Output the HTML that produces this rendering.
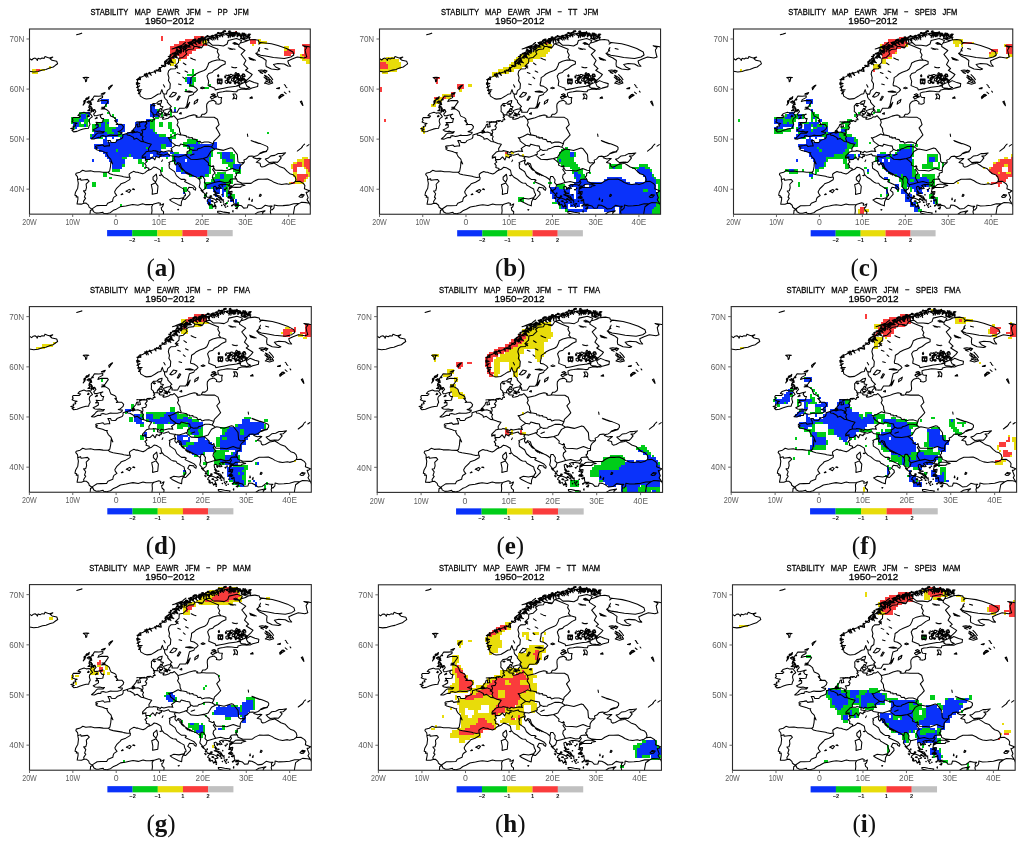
<!DOCTYPE html>
<html lang="en"><head><meta charset="utf-8"><title>Stability maps EAWR JFM</title>
<style>html,body{margin:0;padding:0;background:#fff}body{width:1024px;height:846px;overflow:hidden}svg{display:block}.t{font-family:"Liberation Sans",Arial,sans-serif;font-size:9.2px;fill:#000;stroke:#000;stroke-width:0.3;text-anchor:middle}.ax{font-family:"Liberation Sans",Arial,sans-serif;font-size:8.7px;fill:#5e5e5e}.cb{font-family:"Liberation Sans",Arial,sans-serif;font-size:5.6px;font-weight:bold;fill:#111;text-anchor:middle}.lt{font-family:"Liberation Serif","Times New Roman",serif;font-size:25px;fill:#111;text-anchor:middle}.cl{fill:none;stroke:#000;stroke-width:1.05;stroke-linejoin:round;stroke-linecap:round}</style></head><body>
<svg width="1024" height="846" viewBox="0 0 1024 846">
<defs><clipPath id="cp"><rect x="0" y="0" width="280.8" height="185.2"/></clipPath>
<g id="coast" class="cl"><path d="M0,29.5 2.2,31 3.9,29.5 5.6,29.1 7.3,30.3 7.8,31.5 8.6,29.3 10.8,30 12.5,29 14.7,29.4 15.5,27.5 18.1,28.5 19.9,29 23.3,28.1 20.7,29.8 22.5,31.3 27.2,32.3 28.1,34.8 25.9,36.3 23.8,38 20.7,38.8 16.4,40.5 13,41.1 8.6,42.5 4.3,43 0,42.3 M47.1,5.8 49.7,5.1 52.3,4.3 50.1,4.9 47.1,5.8 M53.6,48.6 56.6,48.3 59.2,48.6 57.4,49.1 57,52.1 56.1,52.8 55.7,50.1 53.6,48.6 M79.5,60.6 80.8,58.6 82.9,56.1 81.2,56.8 79,58.6 79.5,60.6 M71.7,65.1 73.4,64.3 75.6,63.6 74.3,65.3 71.7,65.1 M53.6,76.1 54.9,73.6 55.3,71.6 59.6,67.6 59.2,69.6 56.1,71.1 55.3,74.1 53.6,76.1 M57.4,73.1 59.6,71.8 61.8,73.8 59.2,74.3 57.4,73.1 M59.2,78.6 59.6,77.1 61.8,77.8 59.2,78.6 M58.3,81.6 60,80.6 60.5,81.8 58.3,81.6 M61.8,109.9 64.8,107.4 66.7,105.1 68.2,104.1 71.7,104.1 73.4,104.1 74.7,102.6 72.6,102.9 70,102.1 67.8,102.4 65.2,102.1 63.5,100.9 66.1,99.6 68.7,98.1 68.7,95.6 65.9,96.1 67.6,94.6 66.5,93.4 68.7,93.6 72.1,93.4 73.2,93.1 73.4,91.3 74.1,89.6 72.3,89.6 70.8,87.6 71.7,85.6 73.2,85.2 70.8,85.7 67.4,86.6 65,86.8 64.1,85.1 66.3,82.6 65.2,80.6 63.5,80.8 61.3,83.6 62,80.6 62.2,78.6 59.6,76.6 61.8,74.6 61.1,72.1 63.5,69.1 64.8,67 69.1,67.2 73.2,66.8 73,68.6 69.1,70.6 68.2,72.6 71.7,71.5 77.7,71.6 78.6,72.8 77.3,74.6 75.6,77.1 74.3,78.3 72.1,78.3 75.2,78.7 71.7,80.1 75.2,79.8 77.7,81.1 79.5,82.6 80.3,85.1 81.2,87.1 84.7,88.6 86,89.6 86.8,92.1 85.1,91.6 87.9,94.6 86.6,95.6 88.5,95.4 92,95.4 93.9,97.6 93.3,99.6 91.6,101.1 90.3,102.1 88.5,102.6 90.7,103.2 92.6,103.2 92.2,104.6 90.5,105.6 87.5,106.4 82.9,106.4 80.8,106.1 77.7,107.1 75.8,107.4 73.4,106.6 71.3,107.1 71.1,108.6 68.5,108.4 64.6,110.1 61.8,109.9 M65.7,89.8 67.4,88.1 67.8,89.1 65.7,89.8 M59,99.3 56.4,99.5 53.6,100.1 50.5,101.1 47.5,102.4 44.1,102.9 42.5,101.4 44.5,100.6 41.2,99.6 44.1,98.9 43.6,97.4 46.2,96.9 45.4,95.4 47.5,94.4 44.9,93.9 42.5,92.9 43.6,91.3 42.8,90.1 43.6,88.6 46.6,88.6 49.7,88.6 51,87.1 48.4,86.6 50.1,84.6 54.4,83.2 56.6,84.1 59.8,83.8 61.8,86.1 62.8,87.8 60.9,89.1 60,90.1 59.6,92.1 60,93.6 60.5,95.4 59.6,97.1 59,99.3 M78.6,143.3 73.4,143.2 70,142.7 64.8,142.8 61.1,141.9 56.1,142.3 53.1,141.3 50.5,143.2 46.6,144.2 46.2,145.7 47.9,147.7 48.2,149.7 48.1,150.8 48.8,154.2 48.2,159.2 46,163.2 45.4,166.2 47.1,166.7 46.6,168.1 48.4,167.9 48.4,170.4 47.5,175.1 51.8,175.2 54.4,174.3 56.6,174.2 59,176.2 59.6,178.2 62.2,180.2 63.3,179.4 67.4,176.7 71.3,176.6 76.9,176.5 78.2,174.2 83.1,172.2 83.4,170.2 84.2,168.4 87.2,166.4 85.5,164.2 85.1,162.7 86.8,159.7 89.4,157.2 90.3,156.4 91.6,154.7 95.9,153.2 100.2,150.7 100.6,148.7 100,148 M48.1,150.8 51,149.7 51.4,151.2 55.3,150.7 57.9,150.4 59.6,152.2 56.6,155.2 57,158.7 56.1,161.7 54,161.9 56.1,164.7 54.9,168.2 56.1,169.2 54,172.4 54.4,174.3 M78.6,143.3 80.3,144.9 83.4,145.7 89.4,146.7 92.6,147.2 93.9,147.7 97.2,148.4 100,148 M96.5,162.2 99.8,160.4 101.3,161.4 99.6,163.7 98,162.7 96.5,162.2 M102.8,160.2 105,160.7 104.1,159.8 102.8,160.2 M91.6,165.7 92.9,164.7 93.3,165.4 91.6,165.7 M78.6,143.3 80.1,142.2 81,137.6 81.4,132.6 83.1,134.9 81.8,131.9 81.2,130.1 78.6,127.6 77.1,124.6 77.7,123.7 75.6,123.6 73,122.4 67.8,121.1 66.1,119.9 67.8,118.9 65.9,118.1 66.5,117.1 70.8,116.4 73.4,115.9 74.7,117.4 77.7,116.9 80.1,116.9 79.5,114.1 78.2,111.6 80.8,111.6 81.6,113.4 85.5,113.6 86.8,112.6 87.2,111.6 92.4,109.6 93.3,108.1 93.3,105.9 97.2,104.6 100.9,103.3 101.9,102.9 103.7,103.1 102.4,101.6 103.7,100.9 104.1,100.1 106,97.9 106.9,95.4 108.4,95.1 108,98.1 110.6,97.6 109.7,93.9 113.2,92.9 116.2,93.1 117.1,93.9 117.1,91.8 120.9,91.5 122.2,92.6 123.1,92.3 123.3,90.8 125.3,90.7 124.8,89.6 123.5,88.3 124.8,87.6 123.5,85.6 123.7,84.6 121.4,82.3 121.6,80.1 121.4,77.1 123.5,74.6 127,74.2 129.4,72.2 132.2,71.4 131.7,73.8 130.9,75.3 130.9,77.1 133.5,77.8 132.6,79.3 130.7,79.6 129.6,81.6 128.3,82.6 127.4,84.1 127.2,85.9 129.6,86.3 129.4,87.6 130.4,88.1 133.5,88.2 134.3,88.1 133,89.8 133.5,90.3 135.6,90.1 138.6,89.3 140.4,87.8 142.5,88 144.3,86.7 145.8,88.3 147.7,90.4 148.1,90.6 155.5,88.8 159.4,87.1 164.1,85.9 165.6,86.1 167.6,87.1 166.5,87.8 167.2,88.3 170.2,88.3 171.3,87.8 172.6,85.3 174.9,85.3 177.1,83.6 177.5,81.6 177.3,79.7 177.1,77.6 177.3,75.1 178.8,73.1 180.1,72.2 184,71.3 186.6,73.3 186.2,74.8 189.2,75.2 190.5,74.8 191.8,73.8 191.6,70.7 192.2,68.6 189,68.3 187.9,66.6 187.7,64.1 190,63.2 193.3,62.8 197,62.1 201.3,62.3 204.7,62.8 207.5,62.7 207.8,61.2 211.6,60.3 214.7,60.3 216.8,60.4 215.5,59.3 211.6,59.1 209.9,58.1 210.3,56.6 206.5,57.3 203,57.7 198.7,58.3 194.4,59.2 190,60.1 185.7,60.9 185.3,59.3 182.3,58.1 178.6,56.6 178.8,54.6 179.2,52.3 178.4,50.1 177.5,47.1 179.2,44.5 182.7,43.5 184.4,41.5 187.9,39.8 192.2,36.5 195.7,35 195.7,32.5 192.4,31.3 190.7,31 187.5,31.1 182.7,32.3 179.2,34 178.4,36.5 176.7,40 174.5,41.5 169.7,43.3 166.3,45 163.9,47.1 161.5,48.6 161.3,51.6 160.5,55.1 160.7,56.6 163.9,57.3 166.7,59.1 168,60.8 165.9,63.1 164.6,63.6 163.7,65.6 159.4,67.1 158.5,70.6 157.7,74.6 157.2,76.8 155.7,79.1 153.8,79.3 149.9,79.3 148.1,82.3 147.7,83.2 144.3,83.3 141.9,83.1 142.3,81.8 141,79.8 140.4,78.6 141.9,77.6 139.5,75.1 137.8,73.1 137.8,71.6 135.6,69.6 134.8,68.1 134.5,65.1 133.5,64.1 132.4,60.6 131.5,62.8 130.9,64.8 128.3,65.3 125.3,67.3 121.4,69.6 116.8,70.1 114.9,69.6 110.8,67.1 110.4,65.1 109.3,63.1 108.8,60.1 108,57.1 107.8,54.6 108,51.1 108.4,49.6 113.2,47.6 116.6,45.5 119.6,44.5 124,43 127.8,41.5 129.6,40 133.5,37 135.6,35.3 139.1,32.5 140.8,30 143.4,27.5 147.3,24 151.2,20.5 155.5,18.5 161.5,18 157.7,17 162,14.5 168,11.8 172.8,10.5 177.1,10 181.4,8.5 185.7,8 188.8,6.5 192.2,5.3 197.8,4.3 200.8,5.5 203,7.5 206,4.5 209.5,6.3 211.6,5.8 216.4,6.5 220.7,8.3 216,9.8 210.8,9.3 216,11.3 219.6,11 224.6,10.5 228.9,11.3 229.4,13 231.1,13.5 229.4,15.2 231.5,13.5 235.4,14 241.9,14.8 248.4,16.5 257,19.5 263.5,23 264.3,26 261.3,28 254.8,29.5 244,28.5 237.6,27.3 231.1,26.3 226.3,24.3 228.9,27 233.2,29 236.7,31.5 236.3,35 236.7,37.5 241.9,40 248.4,40.8 250.5,40 246.2,38 244,35.5 248.4,34.5 254.8,35 258.3,37 261.3,37.3 259.2,35 258.3,32 262.6,30 267.8,28 274.3,29 277.3,28 276.4,25 275.6,21 277.3,18.5 273.4,16.8 278.6,17.5 285.1,19 M128.7,82.6 131.3,82.1 133,83.6 132.2,84.8 129.6,84.6 128.7,82.6 M133.5,81.6 137.4,80.3 140.6,79.8 140.8,81.6 139.1,83.1 138.2,85.3 134.8,84.1 133.5,81.6 M133.9,86.1 137.4,85.6 137.6,87.1 133.9,86.1 M149.9,84.6 151.6,83.6 151.8,85.1 149.9,84.6 M164.6,75.1 165,72.6 168.4,70.3 167.6,73.1 164.6,75.1 M157.2,79.1 158.1,76.1 160.2,73.3 158.5,77.6 157.2,79.1 M180.8,68.6 181.4,67.6 185.7,67.1 187,67.8 184.4,68.8 182.3,70.1 181.4,68.8 180.8,68.6 M181.8,65.6 184,64.7 185.7,65.8 183.6,66.6 181.8,65.6 M171,59.1 172.8,58.1 174.9,59.1 172.8,59.8 171,59.1 M142.5,20 146.9,18.8 151.2,17.8 153.8,15 155.9,13.5 152.5,16.3 149,17.5 144.7,19.3 142.5,20 M158.9,14.5 162.8,12.3 164.1,13.5 160.7,15 158.9,14.5 M216,60.1 219.8,60.3 222.4,59.1 228.1,57.6 228.5,54.6 224.6,53.6 219.8,51.6 216,54.1 217.3,57.1 220.3,58.6 216,60.1 M235,54.1 239.3,55.3 243.2,54.1 241.9,51.6 237.6,47.6 235,46.3 237.1,49.1 238.9,51.1 235,54.1 M203.4,70.1 205.2,69.1 206.9,70.1 207.3,67.1 206,65.1 203.4,65.1 204.7,67.6 203.4,70.1 M220.3,69.1 222.4,67.8 222.9,69.3 220.3,69.1 M250.1,69.1 253.5,66.1 251.4,65.6 250.1,69.1 M247.1,59.6 250.1,58.6 249.7,59.8 247.1,59.6 M139.9,67.6 143.4,63.3 146.9,64.1 145.1,66.6 142.1,68.1 139.9,67.6 M147.3,71.1 149.4,67.1 150.7,67.6 148.6,71.1 147.3,71.1 M155.5,62.6 159.8,62.1 163.3,63.1 159.8,63.3 155.5,62.6 M100,148 99.6,145.2 101.5,143.7 104.1,142.4 106.3,143.2 108,143.2 109.7,143.9 113.2,144.9 115.3,143.9 117.9,141.7 119,141.3 121.8,140.2 124.2,138.1 126.6,138.6 128.9,139.9 130.9,141.2 131.7,145.2 134.3,148.2 137.4,149.9 139.5,151.7 141,152.9 143,153.9 146,154.2 147.3,156.2 149,157.1 151.2,158.4 154,159.9 154.6,162.7 155.9,165.2 155.9,166.7 154.8,166.9 154,170.2 155.7,170.5 157.9,168.2 160.5,165.4 160.2,163.2 157.7,161.4 159.4,158.2 163.7,158.9 164.3,160.4 165.9,161.2 166.3,159.4 164.1,156.9 160.7,155.2 155.5,152.9 155.1,152.2 156.4,151.2 155.1,150.4 151.6,150.4 149.9,149.2 146.9,146.7 145.1,142.7 142.5,140.9 139.9,139.2 139.5,135.9 140.2,135.1 139.3,133.6 143,131.9 145.1,131.1 145.8,131.9 144.9,132.9 145.1,134.6 146.4,136.1 148.1,133.6 150.7,134.6 152,138.6 155.5,142.4 159.8,144.7 164.6,147.2 166.3,147.9 168.9,149.7 170.2,150.9 M170.2,150.9 170.6,153.7 170.2,155.7 169.7,157.9 172.8,161.7 174.1,163.7 176,165.4 177.5,168.4 180.5,168.4 185.3,170.4 182.3,169.2 180.1,169.2 178.4,170.4 177.5,172.2 179.9,173.7 180.1,176.2 182.1,175.2 183.6,178.2 184.9,176.2 186.6,177.9 184.6,173.7 186.4,173.4 187.9,172.9 185.7,170.7 188.3,170.2 190.3,171.9 190.5,169.2 187,166.9 184,165.7 185.9,165.2 185.3,163.4 187.2,164.4 184.4,160.7 184,157.9 185.5,157.2 187.5,158.9 187.2,160.4 189,158.4 190,159.7 191.8,159.4 189.2,156.4 191.8,155.4 194.8,155.4 198.5,155.9 198.9,156.7 202.1,156.9 199.5,158.7 199.5,159.9 201.9,158.2 205.2,155.4 207.3,155.2 211.4,155.2 212.1,154.1 207.8,152.4 207.3,150.4 205.4,147.9 206.9,146.7 206.9,144.2 209.9,143.2 209.9,141.4 210.1,138.6 211.4,136.4 214.2,134.1 214.9,133.1 214.4,131.1 216.8,130.1 219.2,127.4 222.4,127.1 224.6,127.6 223.5,128.6 227.2,129.9 229.8,129.4 231.5,129.6 226.8,133.4 230.6,134.4 231.1,137.1 232.4,138.1 235,137.5 239.3,135.1 243.6,134.4 244.5,133.1 239.7,133.6 237.6,131.9 235.8,130.1 238.4,129.4 241.4,126.9 245.3,126.4 248.8,124.6 251.8,124.6 256.1,123.9 252.7,126.9 249.7,127.1 251.8,128.9 249.7,131.6 247.9,133.4 245.3,133.1 244.5,134.1 247.5,135.9 250.5,137.9 254.8,139.4 257.9,142.7 260.4,144.7 263.5,145.7 265.6,147.7 266.5,150.7 265.8,152.6 263.5,154.2 259.2,155.4 257,154.7 252.2,155.5 248.4,154.9 244.5,153.4 241.9,151.7 238,150 233.2,150.3 228.9,150.2 224.6,152.2 221.6,154.4 216.8,154.4 212.1,154.1 M211.9,155.2 215.5,156.4 211.6,157.2 211.4,158.3 206.5,158.4 203,158.2 199.5,160.3 199.1,162.7 202.6,162.4 202.1,165.2 200.4,166.9 202.6,168.2 200,169.2 203.9,170.4 204.1,173.4 204.7,175.2 208.6,175.2 205.2,176.7 207.8,176.9 209.5,176.2 212.1,176.9 214.2,179.2 217.7,178.9 218.6,175.9 221.6,176.2 224.6,177.7 227.6,179.9 231.9,179.4 235.8,176.3 239.7,177.2 242.7,177.2 241,178.7 241.4,180.7 240.8,182.7 241.4,185.2 241.4,187.7 M123.5,148.2 126.8,145.2 127.6,149.7 126.1,153.2 123.5,150.7 123.5,148.2 M121.8,155.7 126.1,153.9 128.5,157.2 127.8,164.2 125.3,164.7 122.7,165.4 122.9,161.2 121.8,155.7 M140.2,170.9 143.8,169.2 149,169.9 153.8,168.8 152,172.7 151.6,176.8 148.6,175.7 142.1,172.4 140.2,170.9 M188.1,182.4 190.9,182.4 194.4,183.2 200,183.9 199.1,185.2 193.5,185.5 188.3,183.9 188.1,182.4 M225.9,184.9 228.5,183.2 235.6,181.8 232.8,183.9 233.5,185.4 228.9,187.2 225.9,184.9 M206,179.4 208.2,178.1 207.5,179.9 206,179.4 M198.3,164.2 200.8,163.4 201.1,165.1 198.3,164.2 M186.6,165.9 190.5,167.2 192.4,170.2 188.8,167.9 186.6,165.9 M198.3,168.7 199.3,167.4 199.1,169.2 198.3,168.7 M171.5,161.4 172.6,161.4 173.2,163.2 171.5,161.4 M174.5,168.7 176,168.7 175.8,169.8 174.5,168.7 M195.7,174.7 197,174.4 196.3,175.4 195.7,174.7 M192.6,170.7 194.1,170.9 193.5,171.7 192.6,170.7 M201.3,171.4 203,171.4 202.1,171.9 201.3,171.4 M194.8,160.4 196.1,160.4 195.4,161.2 194.8,160.4 M192.4,156.7 193.3,156.7 192.9,157.3 192.4,156.7 M130,146.4 131.5,146.2 130.9,146.7 130,146.4 M148.1,180.7 149.2,180.4 148.8,181.1 148.1,180.7 M60.5,185.2 60.9,181.3 63.3,180.7 63.9,182.7 66.5,184.2 69.5,184.1 73.4,183.2 73.9,184.2 76.9,184.7 80.8,183.7 83.8,181.4 86.8,180.2 90.7,177.9 96.3,177 99.6,176.2 103.2,175.6 108.4,176.4 113.2,174.9 116.2,175.7 119.9,175.7 123.5,175.4 128.9,173.7 130.9,174.4 130.4,176.2 132,175.9 134.1,174.8 133,177.9 131.7,178.7 132.2,181.2 134.1,182.7 133.9,185.2 132.6,187.7 M76.9,184.7 78.6,186.2 79,188.2 M123.5,175.4 122.2,177.7 122.5,181.7 122.2,184.2 122,186.7 M134.5,65.1 136.9,65.1 137.8,61.6 140.4,59.6 140.8,54.8 138.9,51.6 139.5,48.8 138.4,45 139.1,42 141.2,40 145.6,39.8 148.1,37 145.3,37 149,33.5 149.2,29.3 153.3,28.5 157.2,24.8 155.9,22.8 158.7,20.5 163.7,20 164.8,17.3 172.6,18.3 174.3,15.5 175.1,14.7 M190.7,31 188.5,28.5 189.6,26 187.7,22.8 188.5,20.3 180.5,17 175.1,14.7 M175.1,14.7 179.7,13.5 183.1,16.3 188.8,16.3 193.9,17 197.6,15 198.7,11.5 206.9,9.6 212.1,11.5 210.8,14 212.9,13.5 216,12.5 219.6,11 M210.8,14 209.5,15.5 209.3,17.5 215.5,21.5 211.6,25.3 216.4,31.5 214.2,35.5 218.3,39.5 216,41.3 222.7,45.5 221.1,47.6 214.7,53.6 206.5,57.3 M171.3,87.8 176.2,88.3 184.6,88.3 187.9,90.3 189.6,95.6 186.6,98.9 188.5,102.1 190.5,105.9 188.1,108.6 184.2,112.4 183.8,114.7 182.1,118.1 185.3,120.3 186.6,119.9 193.9,121.4 201.3,118.9 203,119.4 207.8,125.6 208.4,132.6 210.3,134 214.4,133.4 M147.7,90.4 148.6,93.6 147.5,95.9 149.9,99.6 150.1,102.6 151.2,105.1 150.3,105.9 M150.3,105.9 152.9,106.1 156.8,106.9 157,108.1 159.4,108.1 159.4,109.1 162.8,108.6 163.1,109.9 166.7,110.6 167.8,112.6 170.6,112.4 171.9,114.1 174.9,113.1 179.2,113 183.8,114.7 M150.3,105.9 148.1,104.9 143.4,107.4 139.7,108.9 138.6,108.6 140.4,110.6 140.4,111.9 142.5,113.6 146,116.1 146.2,116.3 M146.2,116.3 149.9,117.1 151.2,115.1 155.9,116.4 159.6,117.1 160.2,119.6 160.7,120.1 M160.7,120.1 163.3,121.4 167.8,121 168.4,119.9 171.3,119.1 174.9,117.4 179,117.3 182.1,118.1 M146.2,116.3 144.5,117.4 141.5,119.6 142.5,120.9 142.1,121.6 143,122.4 139.1,121.9 133.9,123.1 131.5,122.3 130.4,123.6 127.8,122.4 M127.8,122.4 123.5,121.6 122.7,122.2 119.2,122.2 116.6,122.9 116.2,123.6 112.7,127.1 112.7,129.1 113.6,128.1 115.8,128.1 116,130.4 116.8,130.6 M119.2,122.2 119,119.6 121.8,115.3 118.3,114.4 114,112.8 111.4,112.4 107.3,109.4 104.5,110.3 104.1,108.6 100.2,106.4 97.8,106.1 97.4,104.6 M114,112.8 112.7,109.6 113.6,107.6 112.3,106.4 111,106.1 111.7,104.4 108,102.9 105,103.4 103.2,104.1 100.9,103.3 M112.3,106.4 113.2,103.1 112.1,101.1 115.8,100.4 116.8,98.1 115.3,97.1 117.5,94.1 M123.7,85.6 127.2,85.9 M127.8,122.4 127.6,124.9 131.5,125.6 131.5,127.4 130,127.1 129.8,128.9 126.6,127.6 125.3,130.9 122.9,127.9 120.3,130.5 116.8,130.6 115.8,131.1 117.1,133.1 115.1,134.6 116.6,136.6 116.2,138.4 119.4,139.4 119,141.3 M131.5,125.6 133.9,126.3 138.6,124.9 139.9,126.6 145.6,127.5 M145.6,127.5 144.3,129.1 145.3,130.4 145.8,131.9 M145.6,127.5 149.2,128.1 154,126.6 155.9,125.8 M155.9,125.8 157.7,125.1 157.4,123.1 160,121.6 160.7,120.1 M155.9,125.8 158.1,127.8 161.1,130.2 167.6,130.6 173.8,129.5 M173.8,129.5 178,128.1 181.4,122.4 185.3,120.3 M173.8,129.5 176.2,131.4 179.2,134.1 178.8,136.1 182.1,137.6 184.4,137.4 183.4,136.6 184.4,139.2 M184.4,139.2 185.7,141.2 192.2,141.4 196.5,141.9 203,139.5 207.3,141.2 209.9,141.4 M184.4,139.2 183.1,140.4 185.7,144.2 183.4,145.9 182.9,148.7 185.5,153.4 M185.5,153.4 190.5,152.4 195.7,153.9 199.3,153.4 200.2,151.7 M200.2,151.7 201.1,150.4 204.7,149.9 207.3,150.4 M200.2,151.7 201.3,153.4 200,155.4 198.9,156.7 M185.5,153.4 181.4,154.6 177,155.8 M170.2,150.9 171,147.4 173.2,147.4 175.4,150.7 174.9,153.7 177,155.8 M177,155.8 175.8,159.7 172.8,161.7 M265.8,152.6 270.4,152.3 274.1,154.7 275.4,156.7 274.9,159.7 279.9,161.7 M279.9,161.7 278.2,163.2 276.6,163.4 278.6,168.7 277.5,170.7 279.9,174.4 M279.9,161.7 282.9,162.7 285.1,165.7 M279.9,174.4 276.9,173.7 272.1,173.4 269.3,174.7 M269.3,174.7 264.3,174.8 259.2,176.2 253.5,176.7 248.4,176.9 244.7,176 244.5,178.9 242.7,180.9 241.5,180.6 M269.3,174.7 265.2,177.7 264.3,182.7 263.5,188.2 M279.9,174.4 282.5,180.2 285.1,181.2 M57.9,87.6 58.7,86.3 59.6,87.1 58.7,87.8 57.9,87.6 M217.9,105.1 218.3,107.4 M221.6,111.4 225.5,112.9 228.9,114.1 231.5,114.9 234.1,115.9 237.6,117.4 238.4,118.6 238.2,120.6 236.3,122.4 233.2,122.9 230.6,124.1 228.9,125.9 227.2,126.9 224.6,127.6 M222,111.9 225.9,113.4 229.4,114.6 M237.1,122.6 234.1,123.4 231.1,124.6 M267.8,122.1 270,120.4 271.7,119.1 273,117.4 272.1,118.9 270.4,120.1 267.8,122.1 M273.4,116.6 275.1,115.1 M277.3,117.1 279.5,115.6 M249.7,69.6 251.8,67.8 254.4,66.3 252.7,65.3 250.5,66.6 249.2,68.1 249.7,69.6 M250.9,67.6 253.1,67.1 M272.1,72.1 273,74.6 273.4,76.6 272.3,75.1 270.8,72.8 272.1,72.1 M254.8,63.1 256.6,64.6 M256.1,57.6 257.4,58.6 M254.8,55.6 256.1,56.6 M259.6,62.1 260.4,63.1 M229.8,167.2 230.6,165.2 231.9,165.9 230.9,167.4 229.8,167.2 M269.5,167.7 271.7,165.4 274.7,165.9 273,168.2 270.8,168.4 269.5,167.7 M271.7,166.7 273.8,166.9 M222,172.2 222.9,170.4 222.7,172.4 222,172.2 M219.4,170.7 219.8,168.9 220.1,170.7 M161.1,126.4 164.6,125.1 M113.2,128.9 116.2,127.9 M125.7,121.9 127.8,122.4 M132.2,132.6 133,130.9 M161.1,29 163.7,30.3 165.9,31 M153.8,34 156.4,35.8 M168.4,18.3 171.9,19 M147.7,43.5 150.3,44.5 M149,55.1 151.6,55.8 M133.9,55.8 135.2,58.1 M155.5,42 158.1,43.3 M146,37.5 148.1,39 M153.3,48.1 155.1,49.6 M203.4,14.3 205.6,14.8 209.1,15.8 207.3,14.5 205.2,13.5 203.4,14.3 M204.7,15.3 207.8,15.3 M198.7,19 202.1,19.8 205.6,20.3 M200,20 203,20.5 M230.2,18.5 229.4,20.5 228.5,22.5 227.2,24 M228.9,20.3 230,22 M235.4,19.5 238.4,20.3 M219.4,28.5 222.4,29.8 225.9,31.3 M220.3,30.3 224.2,31.3 M219.8,29.3 221.6,30.5 M202.1,38 204.7,38.8 207.3,38.5 M203,38.5 206.5,39 M228.9,41.5 231.5,43 234.1,42.5 235.8,44 237.1,42.5 234.5,41.5 231.9,41 228.9,41.5 M230.6,43.5 233.2,44.5 M235,41 237.6,42 M238.9,45.5 241.4,48.1 243.2,50.6 M234.5,48.1 237.1,50.6 M239.3,48.6 240.1,52.6 M236.3,52.1 239.7,53.6 241.9,52.8 M213.8,49.1 216,50.6 M215.1,52.3 217.3,51.8 M209.3,47.1 208,48 209,49.5 209.9,50.9 211.2,49.8 211,48.2 210.7,46.5 209.3,47.1 M204.6,47.1 204.7,48 205.3,49 206.9,49.1 206.7,47.5 206.3,46.6 205.2,45.9 204.6,47.1 M205.7,52.6 206.8,53.9 208.1,52.7 209.8,52 208.3,51.1 207,51.1 206.1,51.7 205.7,52.6 M213.3,51.3 214.3,50.5 214.1,48.9 213,48.4 211.9,48.8 212.1,50.3 212.5,51.1 213.3,51.3 M201.2,47.7 202.2,47.6 203.1,46.9 202.7,45.7 201.7,45.4 200.4,45.5 200.2,46.9 201.2,47.7 M197.6,50.3 198.4,51.5 199.6,51 199.7,49.5 199.7,47.8 198.5,48.5 197.7,48.9 197.6,50.3 M197.6,51.1 196.7,51.4 195.7,51.8 195.7,53.6 196.8,54.4 198,54.3 198,52.5 197.6,51.1 M201.8,51.4 202.9,51.9 204.3,51.7 204.8,50.3 203.7,49.4 202.5,49.1 202.1,50.3 201.8,51.4 M209.9,54.7 211.7,54.8 212.4,53.9 212.5,53.1 211.6,52.5 210.6,53.1 209.7,53.6 209.9,54.7 M207.1,44.2 206.4,43.5 205.7,44.2 205.4,44.8 206,45.3 207.3,45.6 207.4,44.6 207.1,44.2 M212.8,46.6 213.7,47.6 215,47.5 215.2,46.2 215,45.2 214.1,44.9 213,45.1 212.8,46.6 M201.4,53 200.6,52.9 200,53.3 199.8,54 200.6,54.5 201.5,54.1 201.6,53.5 201.4,53 M207.8,44.9 207,45.6 207.9,46.4 209,46.4 209.8,45.9 209.8,45 208.7,45 207.8,44.9 M215.8,53.2 216.6,52.6 216.3,51.7 215.8,51.3 215.1,51.6 214.5,52 215.1,52.5 215.8,53.2 M195.8,47.1 195.3,47.1 195.2,48 195.4,48.7 195.8,49 196.1,48.5 196.3,47.6 195.8,47.1 M205,50.2 205,49.2 204.7,48.5 204,48.4 203.5,49 203.7,49.7 204.2,50.7 205,50.2 M208.5,50.4 209,50.9 209.5,51.2 210.2,51 210.3,50.4 210,49.5 209.2,50 208.5,50.4 M200.8,48.1 200.5,47.4 200.1,46.9 199.6,47.4 199.1,47.9 199.4,48.9 200.4,48.9 200.8,48.1 M189.1,50.5 188.3,52.2 188.4,54.9 190,54.3 190.5,51.5 189.1,50.5 M191.5,50.9 190.2,51.9 190.5,54.7 191.9,55.1 192.5,52.7 191.5,50.9 M188.9,45.7 188.1,46.5 188.4,47.7 189,47.8 189.4,46.9 188.9,45.7 M187.9,54.1 192.6,54.1 192.6,50.1 187.9,50.1 187.9,54.1 M109.9,64.3 111.2,62.2 109.6,63.6 M108.9,64.4 108.7,64.7 109.3,64.8 109.7,64.6 109.6,64.2 108.9,64.4 M109,61.4 112.3,60.7 108.9,60.7 M108.4,61.3 108.3,60.9 108,60.9 107.9,61.2 108,61.5 108.4,61.3 M108.4,58.5 110.2,56.8 108.2,57.8 M108.1,58.3 107.5,58.3 107.1,58.6 108,58.8 108.3,58.5 108.1,58.3 M107.8,55.5 110.3,54.6 107.8,54.7 M107.4,55.3 107.3,55.1 106.8,55.1 106.9,55.3 107.2,55.4 107.4,55.3 M107.8,54.4 110.1,54.5 107.8,53.6 M107,53.8 106.8,54 107.5,54 107.8,53.8 107.4,53.6 107,53.8 M108,50.9 111.1,50.3 108.2,50.2 M107.1,50.6 107.2,50.7 107.7,50.7 107.8,50.6 107.4,50.5 107.1,50.6 M110.2,48.8 111,50.8 110.9,48.5 M110,48.2 110.4,48.3 111.1,48.2 110.7,48 110,48 110,48.2 M115.3,46.3 117,48.2 116,45.9 M114.8,45.3 115,45.7 115.7,45.8 115.9,45.3 115.3,45 114.8,45.3 M116.9,45.5 118.6,48.1 117.6,45.2 M116.6,44.4 116.7,44.6 117,44.6 117.2,44.4 116.9,44.2 116.6,44.4 M119.8,44.5 121.8,46.5 120.6,44.2 M120,43.4 119.2,43.7 119.3,44.2 120.3,44.5 120.8,43.9 120,43.4 M124.9,42.7 126.1,44.3 125.7,42.4 M125.5,42 125.1,41.7 124.8,41.9 124.8,42.3 125.3,42.4 125.5,42 M127.6,41.7 131.2,42.6 128.2,41.2 M127.1,41 126.7,40.9 126.5,41 126.5,41.2 126.9,41.3 127.1,41 M130.1,39.7 131.3,42.2 130.7,39.2 M130.8,38.6 130.1,38.5 129.7,38.7 129.7,38.9 130.6,38.9 130.8,38.6 M133.3,37.2 135.2,37.7 133.9,36.7 M131.9,36.5 132.6,36.6 132.9,36.5 132.9,36.2 132.3,36.2 131.9,36.5 M135.5,35.4 136.2,37.2 136.1,34.9 M135.3,33.3 134.9,33.9 135.3,34.4 135.9,34.1 136,33.6 135.3,33.3 M137.1,34.1 139.1,35.4 137.8,33.6 M136.6,32.8 137.4,32.5 136.4,32.2 135.1,32.4 135.2,32.8 136.6,32.8 M138.5,33 141,36 139.1,32.5 M137.3,30.7 136.9,31 137.6,31.2 138.8,31.1 138.2,30.6 137.3,30.7 M138.9,32.8 143.9,33.7 139.4,32.1 M136.4,31.5 136.1,31.8 136.4,32.2 137.1,32 137.4,31.5 136.4,31.5 M140.1,31.1 143.6,33.9 140.5,30.4 M138.7,29.5 138.6,29.8 139.4,29.9 140,29.7 139.5,29.5 138.7,29.5 M140.6,30.2 142.1,31.3 141.2,29.7 M139.6,29.5 140.5,29.7 141.1,29.3 140.6,28.9 139.6,29 139.6,29.5 M142.2,28.7 144.8,29.2 142.7,28.2 M140.6,28 141,27.6 140,27.3 138.7,27.5 139.4,27.8 140.6,28 M143.5,27.4 147.9,29.1 144.1,26.9 M140.8,26.7 141.8,26.3 141.8,25.8 141.1,25.5 140.4,25.9 140.8,26.7 M144.7,26.3 147.8,28.4 145.3,25.8 M144.7,24.7 143.7,24.1 142.5,24.4 142.5,25 143.7,25.2 144.7,24.7 M145.6,25.5 146.9,26.8 146.2,25 M145.1,24.6 146.3,24.3 145.9,23.9 144.7,23.8 144,24.2 145.1,24.6 M146.5,24.7 148.5,25.6 147.1,24.2 M145.5,23.2 145.4,23.8 145.7,24.2 146.3,24.1 146.4,23.4 145.5,23.2 M147.5,23.8 149.5,26.1 148.1,23.3 M147.4,22.3 147.9,21.9 146.6,21.7 146.3,22.1 146.6,22.4 147.4,22.3 M148.7,22.7 150.7,24.3 149.3,22.2 M147.3,21.7 148.4,21.9 149.9,21.6 148.5,21.3 146.9,21.2 147.3,21.7 M149.6,21.9 152.1,23 150.2,21.4 M148.4,20.1 147.7,19.9 146.9,20 147,20.3 147.7,20.4 148.4,20.1 M150.6,21.1 151.6,24.1 151.2,20.5 M150.2,19.5 150.8,18.9 150.8,18.2 150.2,18 149.6,18.7 150.2,19.5 M151.2,20.5 152.5,22.4 152,20.2 M151.1,18.7 150.8,19.5 151.1,20 151.7,20 151.6,19.3 151.1,18.7 M153.3,19.5 157.1,21.9 154.1,19.2 M150.5,18.3 151.9,18.5 153.4,18.3 152.7,17.5 151,17.3 150.5,18.3 M154,19.2 154,22.8 154.7,18.9 M154.2,17.6 153.3,18.1 154.2,18.4 155.3,18.3 155.1,17.9 154.2,17.6 M155.5,18.5 156.4,20.1 156.2,18.1 M155.8,16.6 154,16.9 154.6,17.5 155.9,17.5 156.5,17.1 155.8,16.6 M156.5,17.8 157.2,19.6 157.2,17.3 M156.6,17 157.5,16.6 157.2,15.8 156.1,15.9 155.8,16.5 156.6,17 M157.5,17.1 159.9,18 158.2,16.7 M156.3,15.4 155.4,15.6 155.4,16.3 156.5,16.5 157.5,15.8 156.3,15.4 M159.1,16.2 159.5,17.5 159.8,15.8 M158.9,14.1 159.8,14.4 161.2,14 160.1,13.4 158.3,13.6 158.9,14.1 M159.7,15.8 160.2,17.5 160.4,15.4 M159.6,14.7 161,14.4 160.6,13.5 159.4,13.3 159.2,14 159.6,14.7 M160.7,15.2 164.4,17 161.4,14.8 M159.3,14.5 159.9,14.4 160.1,14.2 159.8,13.8 159.2,14.1 159.3,14.5 M161.8,14.6 163.2,15.8 162.6,14.3 M160.7,14 161.9,13.9 162,13.1 161.4,12.7 160.3,13 160.7,14 M163.1,14 163.1,16.6 163.8,13.7 M163.2,12.4 164.2,12.1 164.2,11.8 163.7,11.6 163,11.8 163.2,12.4 M164.2,13.5 167.5,16 164.9,13.2 M162.9,11.2 162.7,12.1 163.1,12.6 163.8,12.5 163.6,11.7 162.9,11.2 M165.7,12.8 166.3,14.7 166.4,12.5 M166.5,10.7 165.5,10.7 164.6,11.4 165.9,11.7 166.6,11.3 166.5,10.7 M166.8,12.3 170.8,14.8 167.6,12 M164.7,10.2 163.4,10.9 165,11.5 166,10.9 166.3,10.1 164.7,10.2 M168,11.8 168.5,13.6 168.8,11.6 M168.8,11 168.9,10.4 168,10.7 167.7,11 168.3,11.5 168.8,11 M169.2,11.4 168.8,14 170,11.2 M168.9,9.6 169.3,10.1 170.2,10.3 171.6,10.1 170.9,9.6 168.9,9.6 M170,11.2 169.3,14.8 170.8,11 M170.3,9.5 169.3,10.2 170.7,10.7 171.6,10.2 171.6,9.4 170.3,9.5 M171.5,10.9 170.6,14 172.2,10.7 M173.5,8.4 172.9,7.8 171.5,8.1 171.7,9.1 173.1,9.1 173.5,8.4 M172.9,10.5 173.8,14.3 173.7,10.4 M173.8,10 174.4,9.3 173.3,8.9 172.2,9.1 172.4,9.8 173.8,10 M173.9,10.4 173.4,13.7 174.7,10.3 M174.2,9.3 174.6,9.6 175.3,9.3 175,8.9 174.4,9 174.2,9.3 M175.4,10.2 176.2,13.4 176.2,10.1 M175,9 175.9,9.1 176.4,8.6 175.7,8.1 175.1,8.5 175,9 M177,10 178.6,12.2 177.8,9.8 M176.5,7.7 175.6,7.8 176,8.3 176.8,8.3 177,7.9 176.5,7.7 M178.7,9.4 179.2,12.8 179.5,9.2 M177.4,7.3 178.3,7.8 180.3,7.7 179.8,7.3 178.9,7.1 177.4,7.3 M179.8,9.1 183,11.1 180.6,8.8 M177.3,7 177.3,7.9 178.5,7.9 178.4,7.1 177.9,6.5 177.3,7 M181.3,8.5 181.6,10.3 182.1,8.4 M181.4,7.7 182,7.6 182.3,7.2 181.7,6.8 181.2,7.2 181.4,7.7 M182.7,8.4 184.6,11 183.5,8.3 M182,7.7 182.6,7.8 183,7.6 183,7.1 182.3,7.2 182,7.7 M184.2,8.2 186.3,10.1 185,8.1 M184.1,7.1 184,6.5 183.3,6.3 182.5,6.5 183.1,7 184.1,7.1 M186.5,7.6 188.4,10.8 187.2,7.3 M186.6,5.8 185.3,5.7 184.9,6.3 186.3,6.7 187,6.2 186.6,5.8 M187.3,7.2 188.7,8.7 188,6.9 M187.7,5.5 186.6,5.1 185.7,5.9 186.8,6.4 187.6,6.2 187.7,5.5 M189.3,6.3 190.3,7.8 190,6 M188,4.5 189,4.4 189.7,3.8 188.8,3.4 188.1,3.6 188,4.5 M190.3,5.9 190.6,7.9 191,5.7 M191.2,4.1 190.2,3.9 189.5,4.4 190.6,4.6 191.6,4.6 191.2,4.1 M190.7,5.8 192.6,7.1 191.5,5.5 M189.3,3.7 188.6,4.2 189.4,4.7 190.5,4.6 190.3,3.9 189.3,3.7 M191.8,5.3 193.2,7.9 192.6,5.2 M191,4 191.2,4.6 192.3,4.5 192.6,4 191.7,3.5 191,4 M193.7,5 194.5,6.5 194.5,4.8 M193.8,3.7 194,3.1 193.9,2.5 193.3,2.7 193,3.5 193.8,3.7 M195.6,4.7 198.8,7.2 196.4,4.5 M193.3,2.8 193.9,3.7 194.5,3.2 194.8,2.4 193.9,1.9 193.3,2.8 M196.4,4.5 197.9,6.2 197.2,4.4 M196,1.8 195,1.6 195,2.4 195.5,2.8 196.2,2.5 196,1.8 M197.5,4.1 196.3,5.8 198.2,4.4 M200.5,1.7 199.4,2 198.9,2.7 200,3.1 200.8,2.5 200.5,1.7 M199.6,5 198.7,8.7 200.4,5.3 M199,3.8 199.4,4.5 200.9,5 201.8,4.3 200.8,3.8 199,3.8 M200.9,5.5 200.6,8.7 201.7,5.3 M200.4,5 202.2,4.9 202.8,4.5 201.6,4.3 200.8,4.5 200.4,5 M201.9,5.3 203.3,7.7 202.7,5.1 M201.9,3.3 200.9,3.5 201.1,3.8 202.2,3.9 202.5,3.6 201.9,3.3 M203.3,5 204.7,7.8 204.1,4.9 M204.2,3.4 202.9,3.6 202.6,4 203.2,4.2 204.3,4.1 204.2,3.4 M205.1,4.7 205.7,6.8 205.9,4.5 M204.8,3.4 204.5,4 205.5,4.5 206.6,4 206,3.5 204.8,3.4 M205.7,4.3 204.8,6.9 206.4,4.7 M207.2,3.4 206.8,2.6 206.3,3.2 206.4,3.8 206.9,4.1 207.2,3.4 M207.4,5.2 207.5,7.3 208.1,5.6 M208.6,4.3 208.7,3.9 207.8,3.9 207,4.1 207.6,4.4 208.6,4.3 M208.7,5.8 207.7,7.9 209.4,6.2 M209.2,4.9 208.8,5.3 209.5,5.5 210.3,5.3 210,5 209.2,4.9 M209.8,6.2 212,8.6 210.6,6 M209.7,4.1 208.9,4.8 208.8,5.4 209.8,5.5 210.7,4.9 209.7,4.1 M212.2,5.8 211,9.4 213,6 M212.6,5.2 213.5,5.3 214.1,4.5 213.2,4 212.4,4.3 212.6,5.2 M213.9,6.1 213.4,9.4 214.7,6.2 M214.4,4.6 215.2,4.9 215.3,4.4 214.9,4.2 214.3,4.3 214.4,4.6 M214.8,6.3 214.2,7.7 215.6,6.4 M215.4,6.2 216.4,5.8 216.7,5.3 215.5,5.1 214.4,5.6 215.4,6.2 M217,6.8 213.9,9.6 217.8,7.1 M219.9,5 219,5.1 218.4,5.5 220.2,5.6 221.1,5.2 219.9,5 M218.2,7.2 217.3,8.9 218.9,7.5 M218.8,6.3 218.5,6.6 219,6.9 220.1,6.7 220.2,6.3 218.8,6.3 M219.3,7.7 220.1,10.6 220,8 M218.4,5.5 218.3,5.8 219.6,5.8 220.4,5.6 219.5,5.3 218.4,5.5 M61.4,75.9 62.2,75.3 60.8,75.1 60.2,75.5 60.4,76 61.4,75.9 M61.2,72.6 61,72.1 59.6,72.2 59.2,72.9 60.6,73 61.2,72.6 M61.6,78.7 61.6,79.8 62.2,80.8 62.8,79.8 62.6,79 61.6,78.7 M63.5,82.1 63.7,82.8 64.2,82.4 64.5,81.6 63.7,81.3 63.5,82.1 M59.7,80.4 60.3,80.5 60.6,80 60.1,79.5 59.7,80 59.7,80.4 M63.7,70.5 63.2,70.2 62.2,70.3 62.5,70.9 63.4,70.9 63.7,70.5 M54.9,71.5 54.3,72.1 54.4,73.6 55.2,73.7 55.5,72.3 54.9,71.5 M57.1,69 56.2,69.8 57.3,70.6 58.5,70.1 58,69.1 57.1,69 M132.2,81.1 132.5,80.6 132.4,80.2 131.7,80.2 131.8,80.7 132.2,81.1 M135.8,84.1 135.1,84.6 135.9,84.9 136.5,84.8 136.6,84.4 135.8,84.1 M139.1,85.6 139.4,85.9 139.9,85.7 140.1,85.3 139.2,85.2 139.1,85.6 M131.3,85.7 131.2,85.3 130.4,85.2 130.2,85.8 130.9,86 131.3,85.7 M129.9,74.7 128.1,74.9 127.9,75.2 129.7,75.4 130.4,75.1 129.9,74.7 M124.7,77.1 125.6,76.6 124.9,76.1 123.5,76.3 123.7,76.8 124.7,77.1 M191,172.9 190.9,173.5 191.5,173.5 191.8,173.2 191.5,172.8 191,172.9 M195.3,176.4 194.8,176.5 194.9,176.9 195.4,177 195.7,176.6 195.3,176.4 M195.9,178.4 196.2,178.4 196.4,178.1 196.1,178 195.8,178.1 195.9,178.4 M193.9,173.2 194.1,173.1 194.2,172.8 193.8,172.7 193.6,173 193.9,173.2 M202.2,177.1 202.9,176.9 203.2,176.5 202.5,176.3 202,176.6 202.2,177.1 M203.6,182.3 203.6,181.6 203.3,181.8 203.1,182.6 203.5,183.1 203.6,182.3 M187.8,169.5 187.3,169.4 187,169.7 187.3,169.9 187.8,169.9 187.8,169.5 M196.5,159.2 196.8,159.5 197.3,159.3 197.3,159 196.8,158.9 196.5,159.2 M199.1,171.9 198.5,172 198.4,172.2 198.6,172.4 199.1,172.3 199.1,171.9 M185.9,179.1 185.9,179.4 186.3,179.4 186.4,179.2 186.2,179 185.9,179.1 M175.6,166.9 175.5,166.4 175.2,166.2 175.2,166.8 175.3,167 175.6,166.9 M192.3,176.7 192.5,176.5 192.3,176.2 192,176.3 192,176.5 192.3,176.7 M197.9,177 197.8,177.3 198,177.5 198.3,177.3 198.1,177 197.9,177 M147.9,134.7 150.1,136.5 M149.7,137.2 151.8,139.1 M151.4,139.5 153.5,141.3 M155.7,143.3 157.9,145.1 M157.9,144.3 160,146.1 M160,144.8 162.2,146.6 M102.4,102.9 105,102.4 103.7,101.4 102.4,102.9 M106.9,93 108.2,92.8 M109.1,92.9 110.4,92.7 M111.2,92.8 112.5,92.6 M113.4,92.7 114.7,92.5 M116,92.6 117.3,92.4 M118.6,92.5 119.9,92.3 M209.1,48.1 207.9,47.1 207.5,46.1 206.8,46.5 206,46.7 205.1,48.1 205.8,48.7 205,49.3 204.9,49.5 205.3,49 M205.2,49.1 204.7,47.9 205.8,49.1 206.8,48 207.7,49 208.7,48.6 207.2,50 208.6,49.5 207.8,50.6 206.7,51.4 M210.8,51.6 211.6,52 210.6,50.9 211.4,51.8 212.6,51.5 213.5,51 214.7,50.2 215.7,51 216.3,51 217,51.1 M200.4,48.6 201.6,48.4 200.9,49.1 199.8,49.2 198.4,49.3 197.4,49.3 197.4,49.2 198.4,50.6 199.5,50.6 199.7,50.2 M212.5,47.6 213.5,47.9 213.3,46.6 212,46.2 212.4,47.5 212.7,47 214.1,47.5 215.5,47.5 215.5,46.4 214.1,45.8 M206.9,53.1 207.3,53.5 208.4,53.9 208.3,53.8 209.1,54.6 208.9,54.8 209.1,53.9 208.4,53 208.2,53 207.5,53 M202.6,52.1 204,51.6 204.9,52.1 204.3,52.7 204.6,52.3 205.5,53.6 206.1,52.5 206.3,53.8 205.7,55.1 204.7,54 M197.8,50.1 198.1,49.6 199,48.5 199.4,48.1 199.7,47.6 200,47.1 199.2,46.6 199,45.9 197.8,46.8 196.4,46 M207.3,46 208.6,45.6 208.2,44.7 209,44.5 208.3,45.1 208.1,45.6 207.9,45.2 209.2,46.4 209.4,47.7 208.2,46.9 M213.8,50.6 214,49.4 213.9,50.7 213.5,50.5 214.9,49.1 214.8,49.4 213.6,49 212.7,50 211.2,51.3 211.8,52.4 M198.7,52.1 200.1,53.2 201.2,54.3 199.8,53.6 199,53 198,54.2 198.9,53.6 199.9,53 198.7,52.6 199.3,52.7 M203.9,46 205.2,46.7 206.6,46.1 205.1,47.5 205.6,46.6 204.3,47.1 205,48.1 206.1,48.1 204.7,48.5 205,48.6 M182.4,172.5 183.6,172.7 183.5,172 182.5,171.6 181.6,172.1 182.4,172.5 M180.7,166.8 180.5,167.5 181.6,167.7 182.2,167.2 181.7,166.8 180.7,166.8 M179.8,174.9 179.5,173.7 179,174.1 178.8,175.1 179.3,175.9 179.8,174.9 M185,177.5 185.4,177.8 185.8,177.2 185.4,176.6 184.9,176.7 185,177.5 M188.9,164.4 188.7,164 188.2,164 187.8,164.2 188.1,164.5 188.9,164.4 M192.8,165.9 192.8,165.7 192.7,165.4 192.3,165.5 192.3,165.9 192.8,165.9 M200.4,167.5 200.1,168.1 200.3,168.7 200.6,168.7 200.6,168 200.4,167.5 M203.4,175.8 203.9,175.9 204.3,175.8 204.2,175.4 203.7,175.5 203.4,175.8 M194.2,175.5 194.5,175.4 194.6,175.1 194.3,174.8 194,175.1 194.2,175.5 M192,170.5 191.7,170.3 191.6,170.7 191.7,171 192,171 192,170.5 M188.9,168.7 189.5,169 190.1,168.8 190,168.5 189.4,168.5 188.9,168.7 M184.5,162.5 184.5,162.8 184.9,162.9 185.2,162.7 185,162.5 184.5,162.5 M176.9,163.9 176.7,164.4 177.2,164.8 177.4,164.2 177.3,163.7 176.9,163.9 M175.1,169.2 175.3,169.4 175.8,169.4 175.7,168.9 175.2,168.9 175.1,169.2 M187,158.4 186.6,159 186.7,159.9 187.4,159.8 187.6,158.9 187,158.4 M189.6,159 189.4,159.3 189.5,159.8 189.7,159.8 189.8,159.3 189.6,159"/></g>
</defs>
<g transform="translate(29.5,29) scale(1.0000,0.9997)">
<text class="t" transform="translate(140.1,-14.0) scale(0.82,1)" word-spacing="4.8" letter-spacing="0.12">STABILITY MAP EAWR JFM − PP JFM</text>
<text class="t" x="140.1" y="-4.6" textLength="49.3" lengthAdjust="spacingAndGlyphs">1950−2012</text>
<g clip-path="url(#cp)">
<g shape-rendering="crispEdges"><path fill="#e8dc0a" d="M200.8 5h4.3v2.5h-4.3zM209.5 5h2.2v2.5h-2.2zM172.8 10h4.3v2.5h-4.3zM228.9 10h2.2v2.5h-2.2zM172.8 12.5h4.3v2.5h-4.3zM228.9 12.5h8.6v2.5h-8.6zM222.4 15h2.2v2.5h-2.2zM254.8 17.5h4.3v2.5h-4.3zM254.8 20h2.2v2.5h-2.2zM270 25h2.2v2.5h-2.2zM270 27.5h4.3v2.5h-4.3zM142.5 30h4.3v2.5h-4.3zM149 30h2.2v2.5h-2.2zM272.1 30h8.6v2.5h-8.6zM140.4 32.5h6.5v2.5h-6.5zM276.4 32.5h4.3v2.5h-4.3zM140.4 35h4.3v2.5h-4.3zM19.4 37.5h2.2v2.5h-2.2zM2.2 40h4.3v2.5h-4.3zM10.8 40h4.3v2.5h-4.3zM2.2 42.5h6.5v2.5h-6.5zM272.1 127.6h6.5v2.5h-6.5zM267.8 130.1h6.5v2.5h-6.5zM263.5 132.6h4.3v2.5h-4.3zM272.1 132.6h2.2v2.5h-2.2zM261.3 135.1h2.2v2.5h-2.2zM272.1 135.1h2.2v2.5h-2.2zM261.3 137.6h2.2v2.5h-2.2zM274.3 137.6h2.2v2.5h-2.2zM276.4 140.2h2.2v2.5h-2.2zM263.5 142.7h4.3v2.5h-4.3zM276.4 142.7h4.3v2.5h-4.3zM263.5 145.2h4.3v2.5h-4.3zM278.6 145.2h2.2v2.5h-2.2zM265.6 147.7h2.2v2.5h-2.2zM276.4 147.7h2.2v2.5h-2.2zM265.6 150.2h2.2v2.5h-2.2zM274.3 150.2h2.2v2.5h-2.2zM259.2 152.7h2.2v2.5h-2.2zM265.6 152.7h8.6v2.5h-8.6z"/><path fill="#00cd19" d="M162 40h2.2v2.5h-2.2zM162 42.5h2.2v2.5h-2.2zM157.7 45h8.6v2.5h-8.6zM155.5 47.6h2.2v2.5h-2.2zM162 47.6h4.3v2.5h-4.3zM155.5 50.1h2.2v2.5h-2.2zM162 50.1h4.3v2.5h-4.3zM162 52.6h2.2v2.5h-2.2zM159.8 55.1h4.3v2.5h-4.3zM179.2 55.1h2.2v2.5h-2.2zM174.9 57.6h4.3v2.5h-4.3zM155.5 60.1h2.2v2.5h-2.2zM75.6 75.1h2.2v2.5h-2.2zM144.7 77.6h2.2v2.5h-2.2zM127.4 80.1h2.2v2.5h-2.2zM140.4 80.1h2.2v2.5h-2.2zM49.7 82.6h6.5v2.5h-6.5zM77.7 82.6h2.2v2.5h-2.2zM131.7 82.6h2.2v2.5h-2.2zM140.4 82.6h2.2v2.5h-2.2zM49.7 85.1h2.2v2.5h-2.2zM56.1 85.1h2.2v2.5h-2.2zM82.1 85.1h2.2v2.5h-2.2zM131.7 85.1h2.2v2.5h-2.2zM140.4 85.1h2.2v2.5h-2.2zM41 87.6h10.8v2.5h-10.8zM56.1 87.6h2.2v2.5h-2.2zM84.2 87.6h2.2v2.5h-2.2zM125.3 87.6h4.3v2.5h-4.3zM41 90.1h8.6v2.5h-8.6zM54 90.1h6.5v2.5h-6.5zM73.4 90.1h6.5v2.5h-6.5zM120.9 90.1h4.3v2.5h-4.3zM41 92.6h2.2v2.5h-2.2zM49.7 92.6h2.2v2.5h-2.2zM54 92.6h4.3v2.5h-4.3zM66.9 92.6h4.3v2.5h-4.3zM75.6 92.6h2.2v2.5h-2.2zM120.9 92.6h4.3v2.5h-4.3zM129.6 92.6h4.3v2.5h-4.3zM138.2 92.6h4.3v2.5h-4.3zM49.7 95.1h4.3v2.5h-4.3zM56.1 95.1h2.2v2.5h-2.2zM62.6 95.1h4.3v2.5h-4.3zM69.1 95.1h2.2v2.5h-2.2zM75.6 95.1h4.3v2.5h-4.3zM120.9 95.1h4.3v2.5h-4.3zM129.6 95.1h4.3v2.5h-4.3zM138.2 95.1h4.3v2.5h-4.3zM43.2 97.6h2.2v2.5h-2.2zM62.6 97.6h4.3v2.5h-4.3zM75.6 97.6h10.8v2.5h-10.8zM120.9 97.6h4.3v2.5h-4.3zM138.2 97.6h4.3v2.5h-4.3zM62.6 100.1h2.2v2.5h-2.2zM75.6 100.1h6.5v2.5h-6.5zM123.1 100.1h2.2v2.5h-2.2zM140.4 100.1h4.3v2.5h-4.3zM77.7 102.6h6.5v2.5h-6.5zM88.5 102.6h2.2v2.5h-2.2zM125.3 102.6h2.2v2.5h-2.2zM142.5 102.6h4.3v2.5h-4.3zM237.6 102.6h2.2v2.5h-2.2zM60.5 105.1h2.2v2.5h-2.2zM88.5 105.1h4.3v2.5h-4.3zM129.6 105.1h6.5v2.5h-6.5zM140.4 105.1h2.2v2.5h-2.2zM144.7 105.1h2.2v2.5h-2.2zM69.1 107.6h4.3v2.5h-4.3zM138.2 107.6h8.6v2.5h-8.6zM157.7 110.1h10.8v2.5h-10.8zM153.3 112.6h13v2.5h-13zM168.4 112.6h2.2v2.5h-2.2zM131.7 115.1h4.3v2.5h-4.3zM153.3 115.1h4.3v2.5h-4.3zM116.6 117.6h2.2v2.5h-2.2zM131.7 117.6h4.3v2.5h-4.3zM157.7 117.6h6.5v2.5h-6.5zM86.4 120.1h2.2v2.5h-2.2zM159.8 120.1h2.2v2.5h-2.2zM181.4 120.1h2.2v2.5h-2.2zM144.7 122.6h4.3v2.5h-4.3zM157.7 122.6h4.3v2.5h-4.3zM181.4 122.6h2.2v2.5h-2.2zM187.9 122.6h4.3v2.5h-4.3zM200.8 122.6h2.2v2.5h-2.2zM99.3 125.1h2.2v2.5h-2.2zM142.5 125.1h2.2v2.5h-2.2zM181.4 125.1h2.2v2.5h-2.2zM190 125.1h2.2v2.5h-2.2zM200.8 125.1h4.3v2.5h-4.3zM92.9 127.6h4.3v2.5h-4.3zM136.1 127.6h2.2v2.5h-2.2zM142.5 127.6h2.2v2.5h-2.2zM179.2 127.6h2.2v2.5h-2.2zM190 127.6h2.2v2.5h-2.2zM200.8 127.6h4.3v2.5h-4.3zM108 130.1h4.3v2.5h-4.3zM116.6 130.1h2.2v2.5h-2.2zM142.5 130.1h2.2v2.5h-2.2zM179.2 130.1h2.2v2.5h-2.2zM192.2 130.1h4.3v2.5h-4.3zM203 130.1h2.2v2.5h-2.2zM108 132.6h6.5v2.5h-6.5zM144.7 132.6h2.2v2.5h-2.2zM179.2 132.6h2.2v2.5h-2.2zM192.2 132.6h13v2.5h-13zM92.9 135.1h2.2v2.5h-2.2zM112.3 135.1h2.2v2.5h-2.2zM179.2 135.1h2.2v2.5h-2.2zM198.7 135.1h4.3v2.5h-4.3zM114.5 137.6h2.2v2.5h-2.2zM131.7 137.6h2.2v2.5h-2.2zM179.2 137.6h2.2v2.5h-2.2zM196.5 137.6h2.2v2.5h-2.2zM200.8 137.6h2.2v2.5h-2.2zM82.1 140.2h8.6v2.5h-8.6zM131.7 140.2h2.2v2.5h-2.2zM151.2 140.2h2.2v2.5h-2.2zM179.2 140.2h2.2v2.5h-2.2zM203 140.2h8.6v2.5h-8.6zM73.4 142.7h4.3v2.5h-4.3zM179.2 142.7h2.2v2.5h-2.2zM187.9 142.7h8.6v2.5h-8.6zM205.2 142.7h6.5v2.5h-6.5zM73.4 145.2h4.3v2.5h-4.3zM159.8 145.2h2.2v2.5h-2.2zM174.9 145.2h4.3v2.5h-4.3zM185.7 145.2h4.3v2.5h-4.3zM194.4 145.2h8.6v2.5h-8.6zM79.9 147.7h2.2v2.5h-2.2zM168.4 147.7h4.3v2.5h-4.3zM183.6 147.7h6.5v2.5h-6.5zM194.4 147.7h8.6v2.5h-8.6zM181.4 150.2h4.3v2.5h-4.3zM190 150.2h13v2.5h-13zM62.6 152.7h4.3v2.5h-4.3zM174.9 152.7h6.5v2.5h-6.5zM196.5 152.7h6.5v2.5h-6.5zM62.6 155.2h4.3v2.5h-4.3zM174.9 155.2h2.2v2.5h-2.2zM196.5 155.2h4.3v2.5h-4.3zM153.3 157.7h4.3v2.5h-4.3zM174.9 157.7h2.2v2.5h-2.2zM181.4 157.7h2.2v2.5h-2.2zM194.4 157.7h4.3v2.5h-4.3zM153.3 160.2h4.3v2.5h-4.3zM196.5 160.2h2.2v2.5h-2.2zM196.5 162.7h2.2v2.5h-2.2zM174.9 165.2h2.2v2.5h-2.2zM196.5 165.2h2.2v2.5h-2.2zM200.8 165.2h4.3v2.5h-4.3zM203 167.7h2.2v2.5h-2.2zM196.5 172.7h2.2v2.5h-2.2zM207.3 172.7h2.2v2.5h-2.2zM90.7 175.2h2.2v2.5h-2.2zM179.2 175.2h4.3v2.5h-4.3zM205.2 175.2h4.3v2.5h-4.3zM179.2 177.7h4.3v2.5h-4.3z"/><path fill="#fa3c3c" d="M205.2 2.5h2.2v2.5h-2.2zM131.7 7.5h2.2v2.5h-2.2zM164.1 7.5h10.8v2.5h-10.8zM131.7 10h2.2v2.5h-2.2zM155.5 10h17.3v2.5h-17.3zM220.3 10h6.5v2.5h-6.5zM149 12.5h23.8v2.5h-23.8zM220.3 12.5h6.5v2.5h-6.5zM144.7 15h32.4v2.5h-32.4zM272.1 15h8.6v2.5h-8.6zM140.4 17.5h30.2v2.5h-30.2zM274.3 17.5h6.5v2.5h-6.5zM140.4 20h25.9v2.5h-25.9zM257 20h8.6v2.5h-8.6zM274.3 20h6.5v2.5h-6.5zM140.4 22.5h21.6v2.5h-21.6zM254.8 22.5h10.8v2.5h-10.8zM274.3 22.5h6.5v2.5h-6.5zM140.4 25h19.4v2.5h-19.4zM254.8 25h6.5v2.5h-6.5zM272.1 25h8.6v2.5h-8.6zM140.4 27.5h4.3v2.5h-4.3zM149 27.5h8.6v2.5h-8.6zM274.3 27.5h6.5v2.5h-6.5zM140.4 30h2.2v2.5h-2.2zM6.5 40h4.3v2.5h-4.3zM274.3 130.1h6.5v2.5h-6.5zM267.8 132.6h4.3v2.5h-4.3zM274.3 132.6h6.5v2.5h-6.5zM263.5 135.1h8.6v2.5h-8.6zM274.3 135.1h6.5v2.5h-6.5zM263.5 137.6h4.3v2.5h-4.3zM276.4 137.6h4.3v2.5h-4.3zM263.5 140.2h4.3v2.5h-4.3zM278.6 140.2h2.2v2.5h-2.2zM267.8 145.2h10.8v2.5h-10.8zM267.8 147.7h8.6v2.5h-8.6zM267.8 150.2h6.5v2.5h-6.5zM261.3 152.7h4.3v2.5h-4.3z"/><path fill="#0a32fa" d="M157.7 47.6h4.3v2.5h-4.3zM157.7 50.1h4.3v2.5h-4.3zM157.7 52.6h4.3v2.5h-4.3zM71.3 70.1h8.6v2.5h-8.6zM71.3 72.6h8.6v2.5h-8.6zM120.9 75.1h4.3v2.5h-4.3zM120.9 77.6h4.3v2.5h-4.3zM120.9 80.1h6.5v2.5h-6.5zM144.7 80.1h2.2v2.5h-2.2zM56.1 82.6h4.3v2.5h-4.3zM120.9 82.6h8.6v2.5h-8.6zM51.8 85.1h4.3v2.5h-4.3zM58.3 85.1h2.2v2.5h-2.2zM120.9 85.1h8.6v2.5h-8.6zM51.8 87.6h4.3v2.5h-4.3zM49.7 90.1h4.3v2.5h-4.3zM86.4 90.1h2.2v2.5h-2.2zM116.6 90.1h4.3v2.5h-4.3zM43.2 92.6h6.5v2.5h-6.5zM71.3 92.6h4.3v2.5h-4.3zM77.7 92.6h2.2v2.5h-2.2zM105.8 92.6h15.1v2.5h-15.1zM43.2 95.1h6.5v2.5h-6.5zM54 95.1h2.2v2.5h-2.2zM66.9 95.1h2.2v2.5h-2.2zM71.3 95.1h4.3v2.5h-4.3zM88.5 95.1h6.5v2.5h-6.5zM105.8 95.1h15.1v2.5h-15.1zM45.4 97.6h2.2v2.5h-2.2zM66.9 97.6h8.6v2.5h-8.6zM86.4 97.6h8.6v2.5h-8.6zM105.8 97.6h15.1v2.5h-15.1zM64.8 100.1h10.8v2.5h-10.8zM82.1 100.1h13v2.5h-13zM103.7 100.1h19.4v2.5h-19.4zM64.8 102.6h13v2.5h-13zM84.2 102.6h4.3v2.5h-4.3zM90.7 102.6h2.2v2.5h-2.2zM97.2 102.6h28.1v2.5h-28.1zM62.6 105.1h25.9v2.5h-25.9zM92.9 105.1h36.7v2.5h-36.7zM60.5 107.6h8.6v2.5h-8.6zM75.6 107.6h2.2v2.5h-2.2zM82.1 107.6h2.2v2.5h-2.2zM90.7 107.6h47.5v2.5h-47.5zM73.4 110.1h4.3v2.5h-4.3zM86.4 110.1h56.1v2.5h-56.1zM73.4 112.6h69.1v2.5h-69.1zM166.3 112.6h2.2v2.5h-2.2zM183.6 112.6h4.3v2.5h-4.3zM64.8 115.1h66.9v2.5h-66.9zM136.1 115.1h6.5v2.5h-6.5zM157.7 115.1h30.2v2.5h-30.2zM64.8 117.6h51.8v2.5h-51.8zM118.8 117.6h13v2.5h-13zM164.1 117.6h23.8v2.5h-23.8zM69.1 120.1h17.3v2.5h-17.3zM88.5 120.1h43.2v2.5h-43.2zM162 120.1h19.4v2.5h-19.4zM73.4 122.6h64.8v2.5h-64.8zM140.4 122.6h4.3v2.5h-4.3zM162 122.6h19.4v2.5h-19.4zM192.2 122.6h8.6v2.5h-8.6zM75.6 125.1h23.8v2.5h-23.8zM101.5 125.1h19.4v2.5h-19.4zM123.1 125.1h17.3v2.5h-17.3zM144.7 125.1h36.7v2.5h-36.7zM192.2 125.1h8.6v2.5h-8.6zM77.7 127.6h15.1v2.5h-15.1zM103.7 127.6h19.4v2.5h-19.4zM144.7 127.6h34.6v2.5h-34.6zM192.2 127.6h8.6v2.5h-8.6zM62.6 130.1h2.2v2.5h-2.2zM79.9 130.1h15.1v2.5h-15.1zM144.7 130.1h10.8v2.5h-10.8zM157.7 130.1h21.6v2.5h-21.6zM196.5 130.1h6.5v2.5h-6.5zM82.1 132.6h13v2.5h-13zM146.9 132.6h32.4v2.5h-32.4zM82.1 135.1h10.8v2.5h-10.8zM146.9 135.1h32.4v2.5h-32.4zM203 135.1h8.6v2.5h-8.6zM82.1 137.6h10.8v2.5h-10.8zM146.9 137.6h32.4v2.5h-32.4zM203 137.6h8.6v2.5h-8.6zM146.9 140.2h4.3v2.5h-4.3zM153.3 140.2h25.9v2.5h-25.9zM151.2 142.7h28.1v2.5h-28.1zM162 145.2h13v2.5h-13zM190 145.2h4.3v2.5h-4.3zM190 147.7h4.3v2.5h-4.3zM185.7 150.2h4.3v2.5h-4.3zM181.4 152.7h15.1v2.5h-15.1zM177.1 155.2h19.4v2.5h-19.4zM177.1 157.7h4.3v2.5h-4.3zM183.6 157.7h10.8v2.5h-10.8zM183.6 160.2h6.5v2.5h-6.5zM192.2 160.2h4.3v2.5h-4.3zM153.3 162.7h2.2v2.5h-2.2zM185.7 162.7h4.3v2.5h-4.3zM192.2 162.7h2.2v2.5h-2.2zM198.7 162.7h2.2v2.5h-2.2zM185.7 165.2h2.2v2.5h-2.2zM192.2 165.2h2.2v2.5h-2.2zM198.7 165.2h2.2v2.5h-2.2zM200.8 167.7h2.2v2.5h-2.2zM177.1 170.2h4.3v2.5h-4.3zM200.8 170.2h2.2v2.5h-2.2zM205.2 170.2h2.2v2.5h-2.2zM177.1 172.7h4.3v2.5h-4.3zM205.2 172.7h2.2v2.5h-2.2z"/></g>
<use href="#coast"/>
</g>
<rect x="0" y="0" width="280.8" height="185.2" fill="none" stroke="#2a2a2a" stroke-width="1.1"/>
<g><line x1="-3" y1="10" x2="0" y2="10" stroke="#555" stroke-width="0.9"/><text class="ax" x="-5.3" y="13.2" text-anchor="end" textLength="14.8" lengthAdjust="spacingAndGlyphs">70N</text><line x1="-3" y1="60.1" x2="0" y2="60.1" stroke="#555" stroke-width="0.9"/><text class="ax" x="-5.3" y="63.3" text-anchor="end" textLength="14.8" lengthAdjust="spacingAndGlyphs">60N</text><line x1="-3" y1="110.1" x2="0" y2="110.1" stroke="#555" stroke-width="0.9"/><text class="ax" x="-5.3" y="113.3" text-anchor="end" textLength="14.8" lengthAdjust="spacingAndGlyphs">50N</text><line x1="-3" y1="160.2" x2="0" y2="160.2" stroke="#555" stroke-width="0.9"/><text class="ax" x="-5.3" y="163.4" text-anchor="end" textLength="14.8" lengthAdjust="spacingAndGlyphs">40N</text><line x1="0" y1="185.2" x2="0" y2="188" stroke="#555" stroke-width="0.9"/><text class="ax" x="0" y="196.3" text-anchor="middle" textLength="14.6" lengthAdjust="spacingAndGlyphs">20W</text><line x1="43.2" y1="185.2" x2="43.2" y2="188" stroke="#555" stroke-width="0.9"/><text class="ax" x="43.2" y="196.3" text-anchor="middle" textLength="14.6" lengthAdjust="spacingAndGlyphs">10W</text><line x1="86.4" y1="185.2" x2="86.4" y2="188" stroke="#555" stroke-width="0.9"/><text class="ax" x="86.4" y="196.3" text-anchor="middle">0</text><line x1="129.6" y1="185.2" x2="129.6" y2="188" stroke="#555" stroke-width="0.9"/><text class="ax" x="129.6" y="196.3" text-anchor="middle" textLength="14.6" lengthAdjust="spacingAndGlyphs">10E</text><line x1="172.8" y1="185.2" x2="172.8" y2="188" stroke="#555" stroke-width="0.9"/><text class="ax" x="172.8" y="196.3" text-anchor="middle" textLength="14.6" lengthAdjust="spacingAndGlyphs">20E</text><line x1="216" y1="185.2" x2="216" y2="188" stroke="#555" stroke-width="0.9"/><text class="ax" x="216" y="196.3" text-anchor="middle" textLength="14.6" lengthAdjust="spacingAndGlyphs">30E</text><line x1="259.2" y1="185.2" x2="259.2" y2="188" stroke="#555" stroke-width="0.9"/><text class="ax" x="259.2" y="196.3" text-anchor="middle" textLength="14.6" lengthAdjust="spacingAndGlyphs">40E</text><rect x="77.6" y="201.1" width="25.2" height="6.2" fill="#0a32fa"/><rect x="102.7" y="201.1" width="25.2" height="6.2" fill="#00cd19"/><rect x="127.8" y="201.1" width="25.2" height="6.2" fill="#e8dc0a"/><rect x="152.9" y="201.1" width="25.2" height="6.2" fill="#fa3c3c"/><rect x="178" y="201.1" width="25.2" height="6.2" fill="#c0c0c0"/><text class="cb" x="102.7" y="212.9">−2</text><text class="cb" x="127.8" y="212.9">−1</text><text class="cb" x="152.9" y="212.9">1</text><text class="cb" x="178" y="212.9">2</text></g>
</g>
<text class="lt" x="161" y="275.8">(<tspan font-weight="bold">a</tspan>)</text>
<g transform="translate(379.5,29) scale(1.0009,1.0003)">
<text class="t" transform="translate(140.1,-14.0) scale(0.82,1)" word-spacing="4.8" letter-spacing="0.12">STABILITY MAP EAWR JFM − TT JFM</text>
<text class="t" x="140.1" y="-4.6" textLength="49.3" lengthAdjust="spacingAndGlyphs">1950−2012</text>
<g clip-path="url(#cp)">
<g shape-rendering="crispEdges"><path fill="#e8dc0a" d="M164.1 12.5h2.2v2.5h-2.2zM159.8 15h13v2.5h-13zM157.7 17.5h15.1v2.5h-15.1zM153.3 20h17.3v2.5h-17.3zM146.9 22.5h21.6v2.5h-21.6zM140.4 25h25.9v2.5h-25.9zM6.5 27.5h8.6v2.5h-8.6zM136.1 27.5h23.8v2.5h-23.8zM0 30h19.4v2.5h-19.4zM133.9 30h19.4v2.5h-19.4zM6.5 32.5h15.1v2.5h-15.1zM131.7 32.5h17.3v2.5h-17.3zM8.6 35h13v2.5h-13zM129.6 35h17.3v2.5h-17.3zM8.6 37.5h13v2.5h-13zM123.1 37.5h19.4v2.5h-19.4zM0 40h17.3v2.5h-17.3zM118.8 40h15.1v2.5h-15.1zM2.2 42.5h6.5v2.5h-6.5zM112.3 42.5h17.3v2.5h-17.3zM112.3 45h4.3v2.5h-4.3zM88.5 55.1h4.3v2.5h-4.3zM79.9 60.1h2.2v2.5h-2.2zM62.6 65.1h8.6v2.5h-8.6zM58.3 67.6h4.3v2.5h-4.3zM66.9 67.6h4.3v2.5h-4.3zM54 70.1h8.6v2.5h-8.6zM54 72.6h6.5v2.5h-6.5zM51.8 75.1h4.3v2.5h-4.3zM41 97.6h4.3v2.5h-4.3zM41 100.1h4.3v2.5h-4.3zM43.2 102.6h2.2v2.5h-2.2zM131.7 122.6h2.2v2.5h-2.2zM125.3 125.1h4.3v2.5h-4.3zM142.5 125.1h2.2v2.5h-2.2z"/><path fill="#00cd19" d="M185.7 117.6h2.2v2.5h-2.2zM181.4 120.1h8.6v2.5h-8.6zM179.2 122.6h10.8v2.5h-10.8zM194.4 122.6h2.2v2.5h-2.2zM179.2 125.1h10.8v2.5h-10.8zM194.4 125.1h2.2v2.5h-2.2zM177.1 127.6h17.3v2.5h-17.3zM177.1 130.1h2.2v2.5h-2.2zM181.4 130.1h13v2.5h-13zM179.2 132.6h17.3v2.5h-17.3zM181.4 135.1h17.3v2.5h-17.3zM228.9 135.1h13v2.5h-13zM259.2 135.1h8.6v2.5h-8.6zM190 137.6h10.8v2.5h-10.8zM228.9 137.6h4.3v2.5h-4.3zM235.4 137.6h6.5v2.5h-6.5zM252.7 137.6h6.5v2.5h-6.5zM265.6 137.6h4.3v2.5h-4.3zM192.2 140.2h10.8v2.5h-10.8zM270 140.2h2.2v2.5h-2.2zM192.2 142.7h2.2v2.5h-2.2zM198.7 142.7h4.3v2.5h-4.3zM209.5 142.7h2.2v2.5h-2.2zM200.8 145.2h4.3v2.5h-4.3zM272.1 145.2h2.2v2.5h-2.2zM194.4 147.7h2.2v2.5h-2.2zM200.8 147.7h4.3v2.5h-4.3zM274.3 147.7h2.2v2.5h-2.2zM276.4 150.2h4.3v2.5h-4.3zM153.3 152.7h2.2v2.5h-2.2zM168.4 152.7h4.3v2.5h-4.3zM276.4 152.7h4.3v2.5h-4.3zM177.1 155.2h8.6v2.5h-8.6zM278.6 155.2h2.2v2.5h-2.2zM179.2 157.7h6.5v2.5h-6.5zM278.6 157.7h2.2v2.5h-2.2zM263.5 160.2h4.3v2.5h-4.3zM278.6 160.2h2.2v2.5h-2.2zM278.6 162.7h2.2v2.5h-2.2zM278.6 165.2h2.2v2.5h-2.2zM138.2 167.7h6.5v2.5h-6.5zM278.6 167.7h2.2v2.5h-2.2zM138.2 170.2h6.5v2.5h-6.5zM278.6 170.2h2.2v2.5h-2.2zM172.8 172.7h4.3v2.5h-4.3zM276.4 172.7h4.3v2.5h-4.3zM179.2 175.2h2.2v2.5h-2.2zM276.4 175.2h4.3v2.5h-4.3zM179.2 177.7h2.2v2.5h-2.2zM274.3 177.7h6.5v2.5h-6.5zM185.7 180.2h2.2v2.5h-2.2zM272.1 180.2h8.6v2.5h-8.6zM272.1 182.7h8.6v2.5h-8.6z"/><path fill="#fa3c3c" d="M166.3 12.5h2.2v2.5h-2.2zM0 32.5h6.5v2.5h-6.5zM0 35h8.6v2.5h-8.6zM0 37.5h8.6v2.5h-8.6zM54 47.6h6.5v2.5h-6.5zM56.1 50.1h2.2v2.5h-2.2zM56.1 52.6h2.2v2.5h-2.2zM77.7 55.1h6.5v2.5h-6.5zM0 57.6h2.2v2.5h-2.2zM77.7 57.6h6.5v2.5h-6.5zM0 60.1h2.2v2.5h-2.2zM71.3 62.6h4.3v2.5h-4.3zM71.3 65.1h4.3v2.5h-4.3zM54 67.6h4.3v2.5h-4.3zM62.6 67.6h4.3v2.5h-4.3zM4.3 90.1h2.2v2.5h-2.2zM125.3 122.6h2.2v2.5h-2.2z"/><path fill="#0a32fa" d="M190 122.6h4.3v2.5h-4.3zM190 125.1h4.3v2.5h-4.3zM179.2 130.1h2.2v2.5h-2.2zM233.2 137.6h2.2v2.5h-2.2zM259.2 137.6h6.5v2.5h-6.5zM257 140.2h13v2.5h-13zM194.4 142.7h4.3v2.5h-4.3zM259.2 142.7h13v2.5h-13zM194.4 145.2h6.5v2.5h-6.5zM263.5 145.2h8.6v2.5h-8.6zM196.5 147.7h4.3v2.5h-4.3zM226.8 147.7h15.1v2.5h-15.1zM265.6 147.7h8.6v2.5h-8.6zM196.5 150.2h10.8v2.5h-10.8zM224.6 150.2h21.6v2.5h-21.6zM265.6 150.2h10.8v2.5h-10.8zM194.4 152.7h56.1v2.5h-56.1zM254.8 152.7h21.6v2.5h-21.6zM190 155.2h15.1v2.5h-15.1zM209.5 155.2h66.9v2.5h-66.9zM170.6 157.7h8.6v2.5h-8.6zM187.9 157.7h2.2v2.5h-2.2zM196.5 157.7h79.9v2.5h-79.9zM170.6 160.2h19.4v2.5h-19.4zM196.5 160.2h66.9v2.5h-66.9zM267.8 160.2h8.6v2.5h-8.6zM170.6 162.7h19.4v2.5h-19.4zM196.5 162.7h82.1v2.5h-82.1zM172.8 165.2h21.6v2.5h-21.6zM196.5 165.2h82.1v2.5h-82.1zM172.8 167.7h21.6v2.5h-21.6zM196.5 167.7h82.1v2.5h-82.1zM174.9 170.2h103.7v2.5h-103.7zM177.1 172.7h99.3v2.5h-99.3zM181.4 175.2h6.5v2.5h-6.5zM190 175.2h10.8v2.5h-10.8zM203 175.2h73.4v2.5h-73.4zM181.4 177.7h6.5v2.5h-6.5zM203 177.7h32.4v2.5h-32.4zM239.7 177.7h34.6v2.5h-34.6zM187.9 180.2h19.4v2.5h-19.4zM224.6 180.2h10.8v2.5h-10.8zM239.7 180.2h32.4v2.5h-32.4zM239.7 182.7h32.4v2.5h-32.4z"/></g>
<use href="#coast"/>
</g>
<rect x="0" y="0" width="280.8" height="185.2" fill="none" stroke="#2a2a2a" stroke-width="1.1"/>
<g><line x1="-3" y1="10" x2="0" y2="10" stroke="#555" stroke-width="0.9"/><text class="ax" x="-5.3" y="13.2" text-anchor="end" textLength="14.8" lengthAdjust="spacingAndGlyphs">70N</text><line x1="-3" y1="60.1" x2="0" y2="60.1" stroke="#555" stroke-width="0.9"/><text class="ax" x="-5.3" y="63.3" text-anchor="end" textLength="14.8" lengthAdjust="spacingAndGlyphs">60N</text><line x1="-3" y1="110.1" x2="0" y2="110.1" stroke="#555" stroke-width="0.9"/><text class="ax" x="-5.3" y="113.3" text-anchor="end" textLength="14.8" lengthAdjust="spacingAndGlyphs">50N</text><line x1="-3" y1="160.2" x2="0" y2="160.2" stroke="#555" stroke-width="0.9"/><text class="ax" x="-5.3" y="163.4" text-anchor="end" textLength="14.8" lengthAdjust="spacingAndGlyphs">40N</text><line x1="0" y1="185.2" x2="0" y2="188" stroke="#555" stroke-width="0.9"/><text class="ax" x="0" y="196.3" text-anchor="middle" textLength="14.6" lengthAdjust="spacingAndGlyphs">20W</text><line x1="43.2" y1="185.2" x2="43.2" y2="188" stroke="#555" stroke-width="0.9"/><text class="ax" x="43.2" y="196.3" text-anchor="middle" textLength="14.6" lengthAdjust="spacingAndGlyphs">10W</text><line x1="86.4" y1="185.2" x2="86.4" y2="188" stroke="#555" stroke-width="0.9"/><text class="ax" x="86.4" y="196.3" text-anchor="middle">0</text><line x1="129.6" y1="185.2" x2="129.6" y2="188" stroke="#555" stroke-width="0.9"/><text class="ax" x="129.6" y="196.3" text-anchor="middle" textLength="14.6" lengthAdjust="spacingAndGlyphs">10E</text><line x1="172.8" y1="185.2" x2="172.8" y2="188" stroke="#555" stroke-width="0.9"/><text class="ax" x="172.8" y="196.3" text-anchor="middle" textLength="14.6" lengthAdjust="spacingAndGlyphs">20E</text><line x1="216" y1="185.2" x2="216" y2="188" stroke="#555" stroke-width="0.9"/><text class="ax" x="216" y="196.3" text-anchor="middle" textLength="14.6" lengthAdjust="spacingAndGlyphs">30E</text><line x1="259.2" y1="185.2" x2="259.2" y2="188" stroke="#555" stroke-width="0.9"/><text class="ax" x="259.2" y="196.3" text-anchor="middle" textLength="14.6" lengthAdjust="spacingAndGlyphs">40E</text><rect x="77.6" y="201.1" width="25.2" height="6.2" fill="#0a32fa"/><rect x="102.7" y="201.1" width="25.2" height="6.2" fill="#00cd19"/><rect x="127.8" y="201.1" width="25.2" height="6.2" fill="#e8dc0a"/><rect x="152.9" y="201.1" width="25.2" height="6.2" fill="#fa3c3c"/><rect x="178" y="201.1" width="25.2" height="6.2" fill="#c0c0c0"/><text class="cb" x="102.7" y="212.9">−2</text><text class="cb" x="127.8" y="212.9">−1</text><text class="cb" x="152.9" y="212.9">1</text><text class="cb" x="178" y="212.9">2</text></g>
</g>
<text class="lt" x="510.3" y="275.9">(<tspan font-weight="bold">b</tspan>)</text>
<g transform="translate(733.5,29) scale(0.9945,1.0003)">
<text class="t" transform="translate(140.1,-14.0) scale(0.82,1)" word-spacing="4.8" letter-spacing="0.12">STABILITY MAP EAWR JFM − SPEI3 JFM</text>
<text class="t" x="140.1" y="-4.6" textLength="49.3" lengthAdjust="spacingAndGlyphs">1950−2012</text>
<g clip-path="url(#cp)">
<g shape-rendering="crispEdges"><path fill="#e8dc0a" d="M220.3 10h10.8v2.5h-10.8zM220.3 12.5h10.8v2.5h-10.8zM239.7 12.5h2.2v2.5h-2.2zM146.9 15h2.2v2.5h-2.2zM172.8 15h2.2v2.5h-2.2zM222.4 15h4.3v2.5h-4.3zM228.9 15h2.2v2.5h-2.2zM272.1 15h2.2v2.5h-2.2zM146.9 17.5h2.2v2.5h-2.2zM162 22.5h2.2v2.5h-2.2zM259.2 22.5h6.5v2.5h-6.5zM257 25h6.5v2.5h-6.5zM276.4 25h4.3v2.5h-4.3zM155.5 27.5h4.3v2.5h-4.3zM274.3 27.5h2.2v2.5h-2.2zM149 30h4.3v2.5h-4.3zM149 32.5h4.3v2.5h-4.3zM140.4 35h6.5v2.5h-6.5zM140.4 37.5h6.5v2.5h-6.5zM6.5 40h2.2v2.5h-2.2zM278.6 125.1h2.2v2.5h-2.2zM272.1 127.6h4.3v2.5h-4.3zM265.6 130.1h2.2v2.5h-2.2zM261.3 132.6h2.2v2.5h-2.2zM272.1 135.1h4.3v2.5h-4.3zM250.5 137.6h2.2v2.5h-2.2zM257 137.6h2.2v2.5h-2.2zM265.6 142.7h2.2v2.5h-2.2zM274.3 142.7h4.3v2.5h-4.3zM224.6 152.7h2.2v2.5h-2.2zM254.8 152.7h2.2v2.5h-2.2zM125.3 180.2h2.2v2.5h-2.2zM131.7 180.2h4.3v2.5h-4.3zM125.3 182.7h2.2v2.5h-2.2z"/><path fill="#00cd19" d="M75.6 75.1h2.2v2.5h-2.2zM144.7 80.1h2.2v2.5h-2.2zM77.7 82.6h4.3v2.5h-4.3zM125.3 82.6h2.2v2.5h-2.2zM140.4 82.6h2.2v2.5h-2.2zM51.8 85.1h2.2v2.5h-2.2zM60.5 85.1h4.3v2.5h-4.3zM69.1 85.1h2.2v2.5h-2.2zM77.7 85.1h8.6v2.5h-8.6zM120.9 85.1h2.2v2.5h-2.2zM41 87.6h10.8v2.5h-10.8zM58.3 87.6h6.5v2.5h-6.5zM69.1 87.6h2.2v2.5h-2.2zM77.7 87.6h2.2v2.5h-2.2zM82.1 87.6h4.3v2.5h-4.3zM4.3 90.1h2.2v2.5h-2.2zM49.7 90.1h13v2.5h-13zM77.7 90.1h2.2v2.5h-2.2zM82.1 90.1h2.2v2.5h-2.2zM114.5 90.1h4.3v2.5h-4.3zM49.7 92.6h4.3v2.5h-4.3zM56.1 92.6h4.3v2.5h-4.3zM69.1 92.6h6.5v2.5h-6.5zM88.5 92.6h6.5v2.5h-6.5zM108 92.6h8.6v2.5h-8.6zM77.7 95.1h2.2v2.5h-2.2zM84.2 95.1h4.3v2.5h-4.3zM90.7 95.1h4.3v2.5h-4.3zM112.3 95.1h4.3v2.5h-4.3zM58.3 97.6h2.2v2.5h-2.2zM62.6 97.6h2.2v2.5h-2.2zM79.9 97.6h4.3v2.5h-4.3zM108 97.6h8.6v2.5h-8.6zM41 100.1h17.3v2.5h-17.3zM77.7 100.1h2.2v2.5h-2.2zM112.3 100.1h2.2v2.5h-2.2zM41 102.6h8.6v2.5h-8.6zM64.8 102.6h2.2v2.5h-2.2zM92.9 102.6h2.2v2.5h-2.2zM105.8 102.6h8.6v2.5h-8.6zM88.5 105.1h4.3v2.5h-4.3zM105.8 105.1h13v2.5h-13zM69.1 107.6h4.3v2.5h-4.3zM108 107.6h4.3v2.5h-4.3zM120.9 107.6h2.2v2.5h-2.2zM110.1 110.1h2.2v2.5h-2.2zM120.9 110.1h4.3v2.5h-4.3zM114.5 112.6h2.2v2.5h-2.2zM123.1 112.6h2.2v2.5h-2.2zM136.1 112.6h2.2v2.5h-2.2zM114.5 115.1h10.8v2.5h-10.8zM166.3 115.1h10.8v2.5h-10.8zM179.2 115.1h2.2v2.5h-2.2zM183.6 115.1h2.2v2.5h-2.2zM84.2 117.6h2.2v2.5h-2.2zM114.5 117.6h4.3v2.5h-4.3zM166.3 117.6h10.8v2.5h-10.8zM179.2 117.6h2.2v2.5h-2.2zM86.4 120.1h2.2v2.5h-2.2zM112.3 120.1h4.3v2.5h-4.3zM164.1 120.1h2.2v2.5h-2.2zM179.2 120.1h2.2v2.5h-2.2zM110.1 122.6h6.5v2.5h-6.5zM146.9 122.6h6.5v2.5h-6.5zM162 122.6h2.2v2.5h-2.2zM179.2 122.6h2.2v2.5h-2.2zM101.5 125.1h13v2.5h-13zM120.9 125.1h2.2v2.5h-2.2zM157.7 125.1h2.2v2.5h-2.2zM179.2 125.1h2.2v2.5h-2.2zM194.4 125.1h10.8v2.5h-10.8zM92.9 127.6h21.6v2.5h-21.6zM120.9 127.6h2.2v2.5h-2.2zM142.5 127.6h2.2v2.5h-2.2zM153.3 127.6h4.3v2.5h-4.3zM194.4 127.6h2.2v2.5h-2.2zM203 127.6h2.2v2.5h-2.2zM92.9 130.1h2.2v2.5h-2.2zM110.1 130.1h4.3v2.5h-4.3zM142.5 130.1h2.2v2.5h-2.2zM179.2 130.1h2.2v2.5h-2.2zM194.4 130.1h2.2v2.5h-2.2zM203 130.1h2.2v2.5h-2.2zM90.7 132.6h2.2v2.5h-2.2zM110.1 132.6h4.3v2.5h-4.3zM179.2 132.6h2.2v2.5h-2.2zM194.4 132.6h6.5v2.5h-6.5zM205.2 132.6h2.2v2.5h-2.2zM209.5 132.6h2.2v2.5h-2.2zM90.7 135.1h2.2v2.5h-2.2zM112.3 135.1h4.3v2.5h-4.3zM179.2 135.1h2.2v2.5h-2.2zM190 135.1h10.8v2.5h-10.8zM205.2 135.1h2.2v2.5h-2.2zM209.5 135.1h2.2v2.5h-2.2zM86.4 137.6h4.3v2.5h-4.3zM112.3 137.6h4.3v2.5h-4.3zM131.7 137.6h2.2v2.5h-2.2zM149 137.6h2.2v2.5h-2.2zM179.2 137.6h2.2v2.5h-2.2zM190 137.6h17.3v2.5h-17.3zM51.8 140.2h4.3v2.5h-4.3zM60.5 140.2h4.3v2.5h-4.3zM69.1 140.2h2.2v2.5h-2.2zM82.1 140.2h4.3v2.5h-4.3zM179.2 140.2h4.3v2.5h-4.3zM56.1 142.7h8.6v2.5h-8.6zM75.6 142.7h4.3v2.5h-4.3zM82.1 142.7h2.2v2.5h-2.2zM133.9 142.7h2.2v2.5h-2.2zM155.5 142.7h2.2v2.5h-2.2zM179.2 142.7h4.3v2.5h-4.3zM162 145.2h2.2v2.5h-2.2zM168.4 145.2h2.2v2.5h-2.2zM179.2 145.2h8.6v2.5h-8.6zM190 145.2h13v2.5h-13zM77.7 147.7h2.2v2.5h-2.2zM166.3 147.7h8.6v2.5h-8.6zM183.6 147.7h4.3v2.5h-4.3zM194.4 147.7h8.6v2.5h-8.6zM155.5 150.2h2.2v2.5h-2.2zM166.3 150.2h8.6v2.5h-8.6zM177.1 150.2h4.3v2.5h-4.3zM196.5 150.2h6.5v2.5h-6.5zM64.8 152.7h2.2v2.5h-2.2zM168.4 152.7h6.5v2.5h-6.5zM196.5 152.7h6.5v2.5h-6.5zM64.8 155.2h2.2v2.5h-2.2zM168.4 155.2h6.5v2.5h-6.5zM196.5 155.2h6.5v2.5h-6.5zM151.2 157.7h4.3v2.5h-4.3zM170.6 157.7h4.3v2.5h-4.3zM177.1 157.7h2.2v2.5h-2.2zM164.1 160.2h2.2v2.5h-2.2zM177.1 160.2h2.2v2.5h-2.2zM146.9 165.2h2.2v2.5h-2.2zM153.3 165.2h2.2v2.5h-2.2zM196.5 165.2h4.3v2.5h-4.3zM196.5 167.7h4.3v2.5h-4.3zM203 167.7h2.2v2.5h-2.2zM203 170.2h2.2v2.5h-2.2zM183.6 172.7h2.2v2.5h-2.2zM203 172.7h2.2v2.5h-2.2zM185.7 180.2h4.3v2.5h-4.3z"/><path fill="#fa3c3c" d="M166.3 7.5h8.6v2.5h-8.6zM155.5 10h19.4v2.5h-19.4zM151.2 12.5h23.8v2.5h-23.8zM231.1 12.5h8.6v2.5h-8.6zM149 15h23.8v2.5h-23.8zM274.3 15h6.5v2.5h-6.5zM149 17.5h19.4v2.5h-19.4zM274.3 17.5h6.5v2.5h-6.5zM149 20h15.1v2.5h-15.1zM259.2 20h6.5v2.5h-6.5zM274.3 20h6.5v2.5h-6.5zM149 22.5h13v2.5h-13zM257 22.5h2.2v2.5h-2.2zM274.3 22.5h6.5v2.5h-6.5zM149 25h10.8v2.5h-10.8zM149 27.5h6.5v2.5h-6.5zM140.4 40h2.2v2.5h-2.2zM278.6 127.6h2.2v2.5h-2.2zM267.8 130.1h13v2.5h-13zM263.5 132.6h17.3v2.5h-17.3zM261.3 135.1h10.8v2.5h-10.8zM276.4 135.1h4.3v2.5h-4.3zM259.2 137.6h10.8v2.5h-10.8zM276.4 137.6h4.3v2.5h-4.3zM257 140.2h13v2.5h-13zM276.4 140.2h4.3v2.5h-4.3zM259.2 142.7h6.5v2.5h-6.5zM267.8 142.7h6.5v2.5h-6.5zM278.6 142.7h2.2v2.5h-2.2zM263.5 145.2h17.3v2.5h-17.3zM265.6 147.7h10.8v2.5h-10.8zM265.6 150.2h8.6v2.5h-8.6zM259.2 152.7h10.8v2.5h-10.8zM265.6 155.2h2.2v2.5h-2.2zM127.4 177.7h4.3v2.5h-4.3zM127.4 180.2h4.3v2.5h-4.3zM127.4 182.7h4.3v2.5h-4.3z"/><path fill="#0a32fa" d="M73.4 70.1h6.5v2.5h-6.5zM73.4 72.6h6.5v2.5h-6.5zM77.7 80.1h2.2v2.5h-2.2zM56.1 82.6h4.3v2.5h-4.3zM54 85.1h6.5v2.5h-6.5zM64.8 85.1h4.3v2.5h-4.3zM51.8 87.6h6.5v2.5h-6.5zM64.8 87.6h4.3v2.5h-4.3zM79.9 87.6h2.2v2.5h-2.2zM41 90.1h8.6v2.5h-8.6zM86.4 90.1h2.2v2.5h-2.2zM41 92.6h8.6v2.5h-8.6zM54 92.6h2.2v2.5h-2.2zM64.8 92.6h4.3v2.5h-4.3zM75.6 92.6h10.8v2.5h-10.8zM45.4 95.1h15.1v2.5h-15.1zM64.8 95.1h4.3v2.5h-4.3zM71.3 95.1h6.5v2.5h-6.5zM79.9 95.1h4.3v2.5h-4.3zM88.5 95.1h2.2v2.5h-2.2zM41 97.6h8.6v2.5h-8.6zM64.8 97.6h4.3v2.5h-4.3zM71.3 97.6h6.5v2.5h-6.5zM84.2 97.6h10.8v2.5h-10.8zM62.6 100.1h15.1v2.5h-15.1zM79.9 100.1h15.1v2.5h-15.1zM108 100.1h4.3v2.5h-4.3zM66.9 102.6h25.9v2.5h-25.9zM95 102.6h10.8v2.5h-10.8zM62.6 105.1h25.9v2.5h-25.9zM92.9 105.1h13v2.5h-13zM60.5 107.6h8.6v2.5h-8.6zM75.6 107.6h2.2v2.5h-2.2zM82.1 107.6h2.2v2.5h-2.2zM90.7 107.6h17.3v2.5h-17.3zM112.3 107.6h8.6v2.5h-8.6zM73.4 110.1h6.5v2.5h-6.5zM86.4 110.1h23.8v2.5h-23.8zM112.3 110.1h8.6v2.5h-8.6zM73.4 112.6h41v2.5h-41zM116.6 112.6h6.5v2.5h-6.5zM64.8 115.1h49.7v2.5h-49.7zM177.1 115.1h2.2v2.5h-2.2zM66.9 117.6h17.3v2.5h-17.3zM86.4 117.6h28.1v2.5h-28.1zM177.1 117.6h2.2v2.5h-2.2zM71.3 120.1h15.1v2.5h-15.1zM88.5 120.1h23.8v2.5h-23.8zM166.3 120.1h13v2.5h-13zM75.6 122.6h34.6v2.5h-34.6zM164.1 122.6h15.1v2.5h-15.1zM75.6 125.1h25.9v2.5h-25.9zM114.5 125.1h6.5v2.5h-6.5zM125.3 125.1h2.2v2.5h-2.2zM144.7 125.1h13v2.5h-13zM159.8 125.1h19.4v2.5h-19.4zM77.7 127.6h15.1v2.5h-15.1zM114.5 127.6h6.5v2.5h-6.5zM144.7 127.6h8.6v2.5h-8.6zM157.7 127.6h21.6v2.5h-21.6zM196.5 127.6h6.5v2.5h-6.5zM62.6 130.1h2.2v2.5h-2.2zM79.9 130.1h13v2.5h-13zM144.7 130.1h4.3v2.5h-4.3zM151.2 130.1h4.3v2.5h-4.3zM157.7 130.1h21.6v2.5h-21.6zM196.5 130.1h6.5v2.5h-6.5zM82.1 132.6h8.6v2.5h-8.6zM146.9 132.6h32.4v2.5h-32.4zM82.1 135.1h8.6v2.5h-8.6zM149 135.1h30.2v2.5h-30.2zM82.1 137.6h4.3v2.5h-4.3zM151.2 137.6h28.1v2.5h-28.1zM56.1 140.2h4.3v2.5h-4.3zM133.9 140.2h2.2v2.5h-2.2zM153.3 140.2h25.9v2.5h-25.9zM157.7 142.7h21.6v2.5h-21.6zM75.6 145.2h4.3v2.5h-4.3zM164.1 145.2h4.3v2.5h-4.3zM170.6 145.2h8.6v2.5h-8.6zM151.2 147.7h4.3v2.5h-4.3zM174.9 147.7h8.6v2.5h-8.6zM187.9 147.7h6.5v2.5h-6.5zM174.9 150.2h2.2v2.5h-2.2zM181.4 150.2h15.1v2.5h-15.1zM174.9 152.7h21.6v2.5h-21.6zM162 155.2h4.3v2.5h-4.3zM174.9 155.2h21.6v2.5h-21.6zM162 157.7h4.3v2.5h-4.3zM179.2 157.7h10.8v2.5h-10.8zM153.3 160.2h2.2v2.5h-2.2zM168.4 160.2h6.5v2.5h-6.5zM181.4 160.2h8.6v2.5h-8.6zM194.4 160.2h2.2v2.5h-2.2zM153.3 162.7h2.2v2.5h-2.2zM168.4 162.7h6.5v2.5h-6.5zM183.6 162.7h6.5v2.5h-6.5zM172.8 165.2h6.5v2.5h-6.5zM172.8 167.7h6.5v2.5h-6.5zM172.8 170.2h6.5v2.5h-6.5zM200.8 170.2h2.2v2.5h-2.2zM177.1 172.7h6.5v2.5h-6.5zM200.8 172.7h2.2v2.5h-2.2zM177.1 175.2h6.5v2.5h-6.5zM181.4 177.7h6.5v2.5h-6.5zM181.4 180.2h4.3v2.5h-4.3z"/></g>
<use href="#coast"/>
</g>
<rect x="0" y="0" width="280.8" height="185.2" fill="none" stroke="#2a2a2a" stroke-width="1.1"/>
<g><line x1="-3" y1="10" x2="0" y2="10" stroke="#555" stroke-width="0.9"/><text class="ax" x="-5.3" y="13.2" text-anchor="end" textLength="14.8" lengthAdjust="spacingAndGlyphs">70N</text><line x1="-3" y1="60.1" x2="0" y2="60.1" stroke="#555" stroke-width="0.9"/><text class="ax" x="-5.3" y="63.3" text-anchor="end" textLength="14.8" lengthAdjust="spacingAndGlyphs">60N</text><line x1="-3" y1="110.1" x2="0" y2="110.1" stroke="#555" stroke-width="0.9"/><text class="ax" x="-5.3" y="113.3" text-anchor="end" textLength="14.8" lengthAdjust="spacingAndGlyphs">50N</text><line x1="-3" y1="160.2" x2="0" y2="160.2" stroke="#555" stroke-width="0.9"/><text class="ax" x="-5.3" y="163.4" text-anchor="end" textLength="14.8" lengthAdjust="spacingAndGlyphs">40N</text><line x1="0" y1="185.2" x2="0" y2="188" stroke="#555" stroke-width="0.9"/><text class="ax" x="0" y="196.3" text-anchor="middle" textLength="14.6" lengthAdjust="spacingAndGlyphs">20W</text><line x1="43.2" y1="185.2" x2="43.2" y2="188" stroke="#555" stroke-width="0.9"/><text class="ax" x="43.2" y="196.3" text-anchor="middle" textLength="14.6" lengthAdjust="spacingAndGlyphs">10W</text><line x1="86.4" y1="185.2" x2="86.4" y2="188" stroke="#555" stroke-width="0.9"/><text class="ax" x="86.4" y="196.3" text-anchor="middle">0</text><line x1="129.6" y1="185.2" x2="129.6" y2="188" stroke="#555" stroke-width="0.9"/><text class="ax" x="129.6" y="196.3" text-anchor="middle" textLength="14.6" lengthAdjust="spacingAndGlyphs">10E</text><line x1="172.8" y1="185.2" x2="172.8" y2="188" stroke="#555" stroke-width="0.9"/><text class="ax" x="172.8" y="196.3" text-anchor="middle" textLength="14.6" lengthAdjust="spacingAndGlyphs">20E</text><line x1="216" y1="185.2" x2="216" y2="188" stroke="#555" stroke-width="0.9"/><text class="ax" x="216" y="196.3" text-anchor="middle" textLength="14.6" lengthAdjust="spacingAndGlyphs">30E</text><line x1="259.2" y1="185.2" x2="259.2" y2="188" stroke="#555" stroke-width="0.9"/><text class="ax" x="259.2" y="196.3" text-anchor="middle" textLength="14.6" lengthAdjust="spacingAndGlyphs">40E</text><rect x="77.6" y="201.1" width="25.2" height="6.2" fill="#0a32fa"/><rect x="102.7" y="201.1" width="25.2" height="6.2" fill="#00cd19"/><rect x="127.8" y="201.1" width="25.2" height="6.2" fill="#e8dc0a"/><rect x="152.9" y="201.1" width="25.2" height="6.2" fill="#fa3c3c"/><rect x="178" y="201.1" width="25.2" height="6.2" fill="#c0c0c0"/><text class="cb" x="102.7" y="212.9">−2</text><text class="cb" x="127.8" y="212.9">−1</text><text class="cb" x="152.9" y="212.9">1</text><text class="cb" x="178" y="212.9">2</text></g>
</g>
<text class="lt" x="864.3" y="275.9">(<tspan font-weight="bold">c</tspan>)</text>
<g transform="translate(29.4,306.6) scale(1.0039,1.0024)">
<text class="t" transform="translate(140.1,-14.0) scale(0.82,1)" word-spacing="4.8" letter-spacing="0.12">STABILITY MAP EAWR JFM − PP FMA</text>
<text class="t" x="140.1" y="-4.6" textLength="49.3" lengthAdjust="spacingAndGlyphs">1950−2012</text>
<g clip-path="url(#cp)">
<g shape-rendering="crispEdges"><path fill="#e8dc0a" d="M151.2 12.5h4.3v2.5h-4.3zM151.2 15h4.3v2.5h-4.3zM164.1 15h15.1v2.5h-15.1zM164.1 17.5h6.5v2.5h-6.5zM254.8 20h4.3v2.5h-4.3zM151.2 22.5h6.5v2.5h-6.5zM144.7 25h2.2v2.5h-2.2zM151.2 25h6.5v2.5h-6.5zM250.5 25h2.2v2.5h-2.2zM259.2 25h2.2v2.5h-2.2zM267.8 27.5h4.3v2.5h-4.3zM272.1 30h4.3v2.5h-4.3zM23.8 35h2.2v2.5h-2.2zM13 37.5h10.8v2.5h-10.8zM6.5 40h8.6v2.5h-8.6zM263.5 152.7h2.2v2.5h-2.2z"/><path fill="#00cd19" d="M71.3 72.6h2.2v2.5h-2.2zM101.5 97.6h2.2v2.5h-2.2zM101.5 100.1h2.2v2.5h-2.2zM140.4 100.1h4.3v2.5h-4.3zM140.4 102.6h4.3v2.5h-4.3zM95 105.1h2.2v2.5h-2.2zM116.6 105.1h19.4v2.5h-19.4zM144.7 105.1h4.3v2.5h-4.3zM110.1 107.6h4.3v2.5h-4.3zM123.1 107.6h10.8v2.5h-10.8zM146.9 107.6h10.8v2.5h-10.8zM99.3 110.1h4.3v2.5h-4.3zM112.3 110.1h2.2v2.5h-2.2zM123.1 110.1h6.5v2.5h-6.5zM146.9 110.1h6.5v2.5h-6.5zM157.7 110.1h4.3v2.5h-4.3zM213.8 110.1h6.5v2.5h-6.5zM99.3 112.6h4.3v2.5h-4.3zM116.6 112.6h2.2v2.5h-2.2zM162 112.6h6.5v2.5h-6.5zM233.2 112.6h4.3v2.5h-4.3zM123.1 115.1h2.2v2.5h-2.2zM138.2 115.1h2.2v2.5h-2.2zM151.2 115.1h6.5v2.5h-6.5zM110.1 117.6h4.3v2.5h-4.3zM127.4 117.6h6.5v2.5h-6.5zM146.9 117.6h10.8v2.5h-10.8zM205.2 117.6h2.2v2.5h-2.2zM233.2 117.6h2.2v2.5h-2.2zM127.4 120.1h6.5v2.5h-6.5zM146.9 120.1h6.5v2.5h-6.5zM157.7 120.1h2.2v2.5h-2.2zM170.6 120.1h2.2v2.5h-2.2zM190 120.1h8.6v2.5h-8.6zM233.2 120.1h2.2v2.5h-2.2zM123.1 122.6h2.2v2.5h-2.2zM129.6 122.6h4.3v2.5h-4.3zM157.7 122.6h2.2v2.5h-2.2zM168.4 122.6h4.3v2.5h-4.3zM192.2 122.6h4.3v2.5h-4.3zM209.5 122.6h4.3v2.5h-4.3zM157.7 125.1h4.3v2.5h-4.3zM168.4 125.1h4.3v2.5h-4.3zM192.2 125.1h2.2v2.5h-2.2zM209.5 125.1h4.3v2.5h-4.3zM110.1 127.6h4.3v2.5h-4.3zM164.1 127.6h8.6v2.5h-8.6zM110.1 130.1h4.3v2.5h-4.3zM185.7 130.1h4.3v2.5h-4.3zM192.2 130.1h4.3v2.5h-4.3zM185.7 132.6h4.3v2.5h-4.3zM224.6 132.6h2.2v2.5h-2.2zM155.5 135.1h8.6v2.5h-8.6zM185.7 135.1h4.3v2.5h-4.3zM153.3 137.6h4.3v2.5h-4.3zM185.7 137.6h4.3v2.5h-4.3zM183.6 142.7h15.1v2.5h-15.1zM172.8 145.2h2.2v2.5h-2.2zM183.6 145.2h10.8v2.5h-10.8zM200.8 145.2h2.2v2.5h-2.2zM164.1 147.7h4.3v2.5h-4.3zM183.6 147.7h10.8v2.5h-10.8zM207.3 147.7h2.2v2.5h-2.2zM183.6 150.2h10.8v2.5h-10.8zM207.3 150.2h2.2v2.5h-2.2zM183.6 152.7h6.5v2.5h-6.5zM172.8 155.2h4.3v2.5h-4.3zM183.6 155.2h10.8v2.5h-10.8zM224.6 155.2h2.2v2.5h-2.2zM203 157.7h15.1v2.5h-15.1zM213.8 160.2h4.3v2.5h-4.3zM177.1 162.7h2.2v2.5h-2.2zM211.6 162.7h4.3v2.5h-4.3zM153.3 165.2h2.2v2.5h-2.2zM177.1 165.2h2.2v2.5h-2.2zM207.3 165.2h2.2v2.5h-2.2zM213.8 165.2h2.2v2.5h-2.2zM211.6 167.7h4.3v2.5h-4.3zM211.6 170.2h4.3v2.5h-4.3zM198.7 172.7h4.3v2.5h-4.3zM213.8 172.7h2.2v2.5h-2.2zM218.1 172.7h2.2v2.5h-2.2zM203 175.2h4.3v2.5h-4.3zM213.8 175.2h2.2v2.5h-2.2zM235.4 175.2h2.2v2.5h-2.2zM207.3 177.7h2.2v2.5h-2.2zM233.2 177.7h2.2v2.5h-2.2zM233.2 180.2h2.2v2.5h-2.2z"/><path fill="#fa3c3c" d="M164.1 7.5h10.8v2.5h-10.8zM157.7 10h19.4v2.5h-19.4zM155.5 12.5h21.6v2.5h-21.6zM155.5 15h2.2v2.5h-2.2zM153.3 17.5h2.2v2.5h-2.2zM274.3 17.5h6.5v2.5h-6.5zM153.3 20h2.2v2.5h-2.2zM263.5 20h2.2v2.5h-2.2zM274.3 20h6.5v2.5h-6.5zM252.7 22.5h13v2.5h-13zM274.3 22.5h6.5v2.5h-6.5zM252.7 25h6.5v2.5h-6.5zM270 25h10.8v2.5h-10.8zM252.7 27.5h6.5v2.5h-6.5zM274.3 27.5h6.5v2.5h-6.5z"/><path fill="#0a32fa" d="M95 102.6h6.5v2.5h-6.5zM136.1 105.1h8.6v2.5h-8.6zM103.7 107.6h6.5v2.5h-6.5zM116.6 107.6h6.5v2.5h-6.5zM133.9 107.6h13v2.5h-13zM103.7 110.1h8.6v2.5h-8.6zM116.6 110.1h6.5v2.5h-6.5zM129.6 110.1h17.3v2.5h-17.3zM153.3 110.1h4.3v2.5h-4.3zM103.7 112.6h8.6v2.5h-8.6zM118.8 112.6h43.2v2.5h-43.2zM211.6 112.6h8.6v2.5h-8.6zM105.8 115.1h8.6v2.5h-8.6zM125.3 115.1h13v2.5h-13zM140.4 115.1h10.8v2.5h-10.8zM157.7 115.1h15.1v2.5h-15.1zM211.6 115.1h21.6v2.5h-21.6zM157.7 117.6h15.1v2.5h-15.1zM207.3 117.6h25.9v2.5h-25.9zM159.8 120.1h10.8v2.5h-10.8zM198.7 120.1h34.6v2.5h-34.6zM159.8 122.6h8.6v2.5h-8.6zM196.5 122.6h13v2.5h-13zM213.8 122.6h17.3v2.5h-17.3zM114.5 125.1h2.2v2.5h-2.2zM162 125.1h6.5v2.5h-6.5zM194.4 125.1h15.1v2.5h-15.1zM213.8 125.1h15.1v2.5h-15.1zM114.5 127.6h2.2v2.5h-2.2zM146.9 127.6h10.8v2.5h-10.8zM190 127.6h30.2v2.5h-30.2zM146.9 130.1h6.5v2.5h-6.5zM157.7 130.1h2.2v2.5h-2.2zM168.4 130.1h6.5v2.5h-6.5zM190 130.1h2.2v2.5h-2.2zM196.5 130.1h21.6v2.5h-21.6zM149 132.6h10.8v2.5h-10.8zM168.4 132.6h10.8v2.5h-10.8zM190 132.6h25.9v2.5h-25.9zM149 135.1h6.5v2.5h-6.5zM164.1 135.1h17.3v2.5h-17.3zM190 135.1h25.9v2.5h-25.9zM157.7 137.6h25.9v2.5h-25.9zM190 137.6h21.6v2.5h-21.6zM155.5 140.2h28.1v2.5h-28.1zM190 140.2h21.6v2.5h-21.6zM157.7 142.7h25.9v2.5h-25.9zM205.2 142.7h6.5v2.5h-6.5zM162 145.2h10.8v2.5h-10.8zM203 145.2h4.3v2.5h-4.3zM194.4 147.7h13v2.5h-13zM194.4 150.2h13v2.5h-13zM190 152.7h19.4v2.5h-19.4zM194.4 155.2h13v2.5h-13zM226.8 155.2h2.2v2.5h-2.2zM196.5 160.2h17.3v2.5h-17.3zM153.3 162.7h2.2v2.5h-2.2zM196.5 162.7h15.1v2.5h-15.1zM196.5 165.2h10.8v2.5h-10.8zM209.5 165.2h4.3v2.5h-4.3zM196.5 167.7h15.1v2.5h-15.1zM198.7 170.2h13v2.5h-13zM203 172.7h10.8v2.5h-10.8zM222.4 172.7h2.2v2.5h-2.2zM207.3 175.2h6.5v2.5h-6.5zM224.6 175.2h2.2v2.5h-2.2zM209.5 177.7h4.3v2.5h-4.3zM224.6 177.7h2.2v2.5h-2.2z"/></g>
<use href="#coast"/>
</g>
<rect x="0" y="0" width="280.8" height="185.2" fill="none" stroke="#2a2a2a" stroke-width="1.1"/>
<g><line x1="-3" y1="10" x2="0" y2="10" stroke="#555" stroke-width="0.9"/><text class="ax" x="-5.3" y="13.2" text-anchor="end" textLength="14.8" lengthAdjust="spacingAndGlyphs">70N</text><line x1="-3" y1="60.1" x2="0" y2="60.1" stroke="#555" stroke-width="0.9"/><text class="ax" x="-5.3" y="63.3" text-anchor="end" textLength="14.8" lengthAdjust="spacingAndGlyphs">60N</text><line x1="-3" y1="110.1" x2="0" y2="110.1" stroke="#555" stroke-width="0.9"/><text class="ax" x="-5.3" y="113.3" text-anchor="end" textLength="14.8" lengthAdjust="spacingAndGlyphs">50N</text><line x1="-3" y1="160.2" x2="0" y2="160.2" stroke="#555" stroke-width="0.9"/><text class="ax" x="-5.3" y="163.4" text-anchor="end" textLength="14.8" lengthAdjust="spacingAndGlyphs">40N</text><line x1="0" y1="185.2" x2="0" y2="188" stroke="#555" stroke-width="0.9"/><text class="ax" x="0" y="196.3" text-anchor="middle" textLength="14.6" lengthAdjust="spacingAndGlyphs">20W</text><line x1="43.2" y1="185.2" x2="43.2" y2="188" stroke="#555" stroke-width="0.9"/><text class="ax" x="43.2" y="196.3" text-anchor="middle" textLength="14.6" lengthAdjust="spacingAndGlyphs">10W</text><line x1="86.4" y1="185.2" x2="86.4" y2="188" stroke="#555" stroke-width="0.9"/><text class="ax" x="86.4" y="196.3" text-anchor="middle">0</text><line x1="129.6" y1="185.2" x2="129.6" y2="188" stroke="#555" stroke-width="0.9"/><text class="ax" x="129.6" y="196.3" text-anchor="middle" textLength="14.6" lengthAdjust="spacingAndGlyphs">10E</text><line x1="172.8" y1="185.2" x2="172.8" y2="188" stroke="#555" stroke-width="0.9"/><text class="ax" x="172.8" y="196.3" text-anchor="middle" textLength="14.6" lengthAdjust="spacingAndGlyphs">20E</text><line x1="216" y1="185.2" x2="216" y2="188" stroke="#555" stroke-width="0.9"/><text class="ax" x="216" y="196.3" text-anchor="middle" textLength="14.6" lengthAdjust="spacingAndGlyphs">30E</text><line x1="259.2" y1="185.2" x2="259.2" y2="188" stroke="#555" stroke-width="0.9"/><text class="ax" x="259.2" y="196.3" text-anchor="middle" textLength="14.6" lengthAdjust="spacingAndGlyphs">40E</text><rect x="77.6" y="201.1" width="25.2" height="6.2" fill="#0a32fa"/><rect x="102.7" y="201.1" width="25.2" height="6.2" fill="#00cd19"/><rect x="127.8" y="201.1" width="25.2" height="6.2" fill="#e8dc0a"/><rect x="152.9" y="201.1" width="25.2" height="6.2" fill="#fa3c3c"/><rect x="178" y="201.1" width="25.2" height="6.2" fill="#c0c0c0"/><text class="cb" x="102.7" y="212.9">−2</text><text class="cb" x="127.8" y="212.9">−1</text><text class="cb" x="152.9" y="212.9">1</text><text class="cb" x="178" y="212.9">2</text></g>
</g>
<text class="lt" x="161" y="553.9">(<tspan font-weight="bold">d</tspan>)</text>
<g transform="translate(377.2,306.6) scale(1.0162,1.0032)">
<text class="t" transform="translate(140.1,-14.0) scale(0.82,1)" word-spacing="4.8" letter-spacing="0.12">STABILITY MAP EAWR JFM − TT FMA</text>
<text class="t" x="140.1" y="-4.6" textLength="49.3" lengthAdjust="spacingAndGlyphs">1950−2012</text>
<g clip-path="url(#cp)">
<g shape-rendering="crispEdges"><path fill="#e8dc0a" d="M159.8 15h10.8v2.5h-10.8zM157.7 17.5h13v2.5h-13zM149 20h21.6v2.5h-21.6zM142.5 22.5h28.1v2.5h-28.1zM142.5 25h30.2v2.5h-30.2zM146.9 27.5h25.9v2.5h-25.9zM146.9 30h23.8v2.5h-23.8zM144.7 32.5h23.8v2.5h-23.8zM142.5 35h21.6v2.5h-21.6zM138.2 37.5h25.9v2.5h-25.9zM133.9 40h30.2v2.5h-30.2zM129.6 42.5h15.1v2.5h-15.1zM155.5 42.5h8.6v2.5h-8.6zM125.3 45h19.4v2.5h-19.4zM155.5 45h10.8v2.5h-10.8zM54 47.6h6.5v2.5h-6.5zM120.9 47.6h19.4v2.5h-19.4zM155.5 47.6h8.6v2.5h-8.6zM56.1 50.1h2.2v2.5h-2.2zM116.6 50.1h23.8v2.5h-23.8zM155.5 50.1h6.5v2.5h-6.5zM56.1 52.6h2.2v2.5h-2.2zM114.5 52.6h25.9v2.5h-25.9zM157.7 52.6h2.2v2.5h-2.2zM114.5 55.1h6.5v2.5h-6.5zM129.6 55.1h10.8v2.5h-10.8zM114.5 57.6h6.5v2.5h-6.5zM129.6 57.6h10.8v2.5h-10.8zM114.5 60.1h6.5v2.5h-6.5zM129.6 60.1h10.8v2.5h-10.8zM69.1 62.6h6.5v2.5h-6.5zM114.5 62.6h6.5v2.5h-6.5zM129.6 62.6h2.2v2.5h-2.2zM133.9 62.6h4.3v2.5h-4.3zM69.1 65.1h6.5v2.5h-6.5zM114.5 65.1h6.5v2.5h-6.5zM133.9 65.1h4.3v2.5h-4.3zM64.8 67.6h6.5v2.5h-6.5zM114.5 67.6h4.3v2.5h-4.3zM133.9 67.6h4.3v2.5h-4.3zM75.6 70.1h4.3v2.5h-4.3zM75.6 72.6h4.3v2.5h-4.3zM71.3 77.6h6.5v2.5h-6.5zM71.3 80.1h6.5v2.5h-6.5zM71.3 82.6h8.6v2.5h-8.6zM73.4 85.1h10.8v2.5h-10.8zM73.4 87.6h13v2.5h-13zM79.9 90.1h6.5v2.5h-6.5zM142.5 105.1h2.2v2.5h-2.2zM125.3 120.1h2.2v2.5h-2.2zM131.7 122.6h2.2v2.5h-2.2zM131.7 125.1h2.2v2.5h-2.2zM142.5 125.1h4.3v2.5h-4.3z"/><path fill="#00cd19" d="M259.2 137.6h4.3v2.5h-4.3zM254.8 140.2h10.8v2.5h-10.8zM261.3 142.7h6.5v2.5h-6.5zM265.6 145.2h4.3v2.5h-4.3zM228.9 147.7h13v2.5h-13zM270 147.7h2.2v2.5h-2.2zM222.4 150.2h21.6v2.5h-21.6zM222.4 152.7h21.6v2.5h-21.6zM220.3 155.2h23.8v2.5h-23.8zM276.4 155.2h2.2v2.5h-2.2zM213.8 157.7h25.9v2.5h-25.9zM211.6 160.2h25.9v2.5h-25.9zM209.5 162.7h8.6v2.5h-8.6zM209.5 165.2h8.6v2.5h-8.6zM209.5 167.7h8.6v2.5h-8.6zM190 172.7h8.6v2.5h-8.6zM218.1 172.7h4.3v2.5h-4.3zM190 175.2h8.6v2.5h-8.6zM190 177.7h8.6v2.5h-8.6zM259.2 177.7h4.3v2.5h-4.3zM241.9 180.2h4.3v2.5h-4.3zM257 180.2h21.6v2.5h-21.6zM194.4 182.7h4.3v2.5h-4.3zM241.9 182.7h4.3v2.5h-4.3zM257 182.7h6.5v2.5h-6.5zM265.6 182.7h4.3v2.5h-4.3zM274.3 182.7h4.3v2.5h-4.3z"/><path fill="#fa3c3c" d="M138.2 27.5h8.6v2.5h-8.6zM136.1 30h10.8v2.5h-10.8zM131.7 32.5h13v2.5h-13zM129.6 35h13v2.5h-13zM125.3 37.5h13v2.5h-13zM118.8 40h15.1v2.5h-15.1zM114.5 42.5h15.1v2.5h-15.1zM110.1 45h15.1v2.5h-15.1zM108 47.6h10.8v2.5h-10.8zM105.8 50.1h8.6v2.5h-8.6zM105.8 52.6h8.6v2.5h-8.6zM77.7 55.1h6.5v2.5h-6.5zM88.5 55.1h4.3v2.5h-4.3zM105.8 55.1h6.5v2.5h-6.5zM77.7 57.6h6.5v2.5h-6.5zM105.8 57.6h6.5v2.5h-6.5zM79.9 60.1h2.2v2.5h-2.2zM108 60.1h2.2v2.5h-2.2zM108 62.6h4.3v2.5h-4.3zM108 65.1h6.5v2.5h-6.5zM110.1 67.6h4.3v2.5h-4.3zM125.3 122.6h4.3v2.5h-4.3zM140.4 122.6h2.2v2.5h-2.2zM125.3 125.1h4.3v2.5h-4.3zM140.4 125.1h2.2v2.5h-2.2z"/><path fill="#0a32fa" d="M257 142.7h4.3v2.5h-4.3zM261.3 145.2h4.3v2.5h-4.3zM265.6 147.7h4.3v2.5h-4.3zM265.6 150.2h8.6v2.5h-8.6zM246.2 152.7h6.5v2.5h-6.5zM254.8 152.7h21.6v2.5h-21.6zM244 155.2h32.4v2.5h-32.4zM239.7 157.7h38.9v2.5h-38.9zM237.6 160.2h41v2.5h-41zM218.1 162.7h60.5v2.5h-60.5zM218.1 165.2h60.5v2.5h-60.5zM218.1 167.7h60.5v2.5h-60.5zM218.1 170.2h60.5v2.5h-60.5zM222.4 172.7h56.1v2.5h-56.1zM224.6 175.2h54v2.5h-54zM226.8 177.7h8.6v2.5h-8.6zM239.7 177.7h19.4v2.5h-19.4zM263.5 177.7h15.1v2.5h-15.1zM239.7 180.2h2.2v2.5h-2.2zM246.2 180.2h10.8v2.5h-10.8zM239.7 182.7h2.2v2.5h-2.2zM246.2 182.7h10.8v2.5h-10.8zM263.5 182.7h2.2v2.5h-2.2zM270 182.7h4.3v2.5h-4.3z"/></g>
<use href="#coast"/>
</g>
<rect x="0" y="0" width="280.8" height="185.2" fill="none" stroke="#2a2a2a" stroke-width="1.1"/>
<g><line x1="-3" y1="10" x2="0" y2="10" stroke="#555" stroke-width="0.9"/><text class="ax" x="-5.3" y="13.2" text-anchor="end" textLength="14.8" lengthAdjust="spacingAndGlyphs">70N</text><line x1="-3" y1="60.1" x2="0" y2="60.1" stroke="#555" stroke-width="0.9"/><text class="ax" x="-5.3" y="63.3" text-anchor="end" textLength="14.8" lengthAdjust="spacingAndGlyphs">60N</text><line x1="-3" y1="110.1" x2="0" y2="110.1" stroke="#555" stroke-width="0.9"/><text class="ax" x="-5.3" y="113.3" text-anchor="end" textLength="14.8" lengthAdjust="spacingAndGlyphs">50N</text><line x1="-3" y1="160.2" x2="0" y2="160.2" stroke="#555" stroke-width="0.9"/><text class="ax" x="-5.3" y="163.4" text-anchor="end" textLength="14.8" lengthAdjust="spacingAndGlyphs">40N</text><line x1="0" y1="185.2" x2="0" y2="188" stroke="#555" stroke-width="0.9"/><text class="ax" x="0" y="196.3" text-anchor="middle" textLength="14.6" lengthAdjust="spacingAndGlyphs">20W</text><line x1="43.2" y1="185.2" x2="43.2" y2="188" stroke="#555" stroke-width="0.9"/><text class="ax" x="43.2" y="196.3" text-anchor="middle" textLength="14.6" lengthAdjust="spacingAndGlyphs">10W</text><line x1="86.4" y1="185.2" x2="86.4" y2="188" stroke="#555" stroke-width="0.9"/><text class="ax" x="86.4" y="196.3" text-anchor="middle">0</text><line x1="129.6" y1="185.2" x2="129.6" y2="188" stroke="#555" stroke-width="0.9"/><text class="ax" x="129.6" y="196.3" text-anchor="middle" textLength="14.6" lengthAdjust="spacingAndGlyphs">10E</text><line x1="172.8" y1="185.2" x2="172.8" y2="188" stroke="#555" stroke-width="0.9"/><text class="ax" x="172.8" y="196.3" text-anchor="middle" textLength="14.6" lengthAdjust="spacingAndGlyphs">20E</text><line x1="216" y1="185.2" x2="216" y2="188" stroke="#555" stroke-width="0.9"/><text class="ax" x="216" y="196.3" text-anchor="middle" textLength="14.6" lengthAdjust="spacingAndGlyphs">30E</text><line x1="259.2" y1="185.2" x2="259.2" y2="188" stroke="#555" stroke-width="0.9"/><text class="ax" x="259.2" y="196.3" text-anchor="middle" textLength="14.6" lengthAdjust="spacingAndGlyphs">40E</text><rect x="77.6" y="201.1" width="25.2" height="6.2" fill="#0a32fa"/><rect x="102.7" y="201.1" width="25.2" height="6.2" fill="#00cd19"/><rect x="127.8" y="201.1" width="25.2" height="6.2" fill="#e8dc0a"/><rect x="152.9" y="201.1" width="25.2" height="6.2" fill="#fa3c3c"/><rect x="178" y="201.1" width="25.2" height="6.2" fill="#c0c0c0"/><text class="cb" x="102.7" y="212.9">−2</text><text class="cb" x="127.8" y="212.9">−1</text><text class="cb" x="152.9" y="212.9">1</text><text class="cb" x="178" y="212.9">2</text></g>
</g>
<text class="lt" x="510.3" y="554">(<tspan font-weight="bold">e</tspan>)</text>
<g transform="translate(731.2,306.6) scale(1.0164,1.0024)">
<text class="t" transform="translate(140.1,-14.0) scale(0.82,1)" word-spacing="4.8" letter-spacing="0.12">STABILITY MAP EAWR JFM − SPEI3 FMA</text>
<text class="t" x="140.1" y="-4.6" textLength="49.3" lengthAdjust="spacingAndGlyphs">1950−2012</text>
<g clip-path="url(#cp)">
<g shape-rendering="crispEdges"><path fill="#e8dc0a" d="M196.5 2.5h2.2v2.5h-2.2zM205.2 2.5h2.2v2.5h-2.2zM220.3 10h10.8v2.5h-10.8zM220.3 12.5h4.3v2.5h-4.3zM226.8 12.5h10.8v2.5h-10.8zM220.3 15h10.8v2.5h-10.8zM274.3 15h2.2v2.5h-2.2zM140.4 17.5h6.5v2.5h-6.5zM257 17.5h2.2v2.5h-2.2zM140.4 20h4.3v2.5h-4.3zM252.7 22.5h2.2v2.5h-2.2zM252.7 25h2.2v2.5h-2.2zM257 27.5h4.3v2.5h-4.3zM140.4 30h8.6v2.5h-8.6zM151.2 30h2.2v2.5h-2.2zM272.1 30h4.3v2.5h-4.3zM140.4 32.5h8.6v2.5h-8.6zM140.4 35h6.5v2.5h-6.5zM140.4 37.5h4.3v2.5h-4.3zM8.6 40h4.3v2.5h-4.3zM140.4 40h4.3v2.5h-4.3zM244 55.1h2.2v2.5h-2.2zM272.1 127.6h2.2v2.5h-2.2zM276.4 130.1h4.3v2.5h-4.3zM276.4 132.6h4.3v2.5h-4.3zM278.6 135.1h2.2v2.5h-2.2zM261.3 137.6h2.2v2.5h-2.2zM278.6 137.6h2.2v2.5h-2.2zM261.3 140.2h2.2v2.5h-2.2zM278.6 140.2h2.2v2.5h-2.2zM263.5 142.7h2.2v2.5h-2.2zM274.3 147.7h2.2v2.5h-2.2zM265.6 150.2h2.2v2.5h-2.2zM265.6 152.7h4.3v2.5h-4.3zM259.2 155.2h8.6v2.5h-8.6zM129.6 180.2h2.2v2.5h-2.2zM129.6 182.7h2.2v2.5h-2.2z"/><path fill="#00cd19" d="M71.3 70.1h2.2v2.5h-2.2zM77.7 80.1h2.2v2.5h-2.2zM58.3 82.6h2.2v2.5h-2.2zM79.9 82.6h2.2v2.5h-2.2zM82.1 85.1h2.2v2.5h-2.2zM58.3 87.6h2.2v2.5h-2.2zM77.7 87.6h2.2v2.5h-2.2zM84.2 87.6h2.2v2.5h-2.2zM43.2 90.1h2.2v2.5h-2.2zM77.7 90.1h4.3v2.5h-4.3zM41 92.6h2.2v2.5h-2.2zM64.8 92.6h2.2v2.5h-2.2zM79.9 92.6h2.2v2.5h-2.2zM112.3 92.6h4.3v2.5h-4.3zM51.8 95.1h2.2v2.5h-2.2zM64.8 95.1h2.2v2.5h-2.2zM73.4 95.1h2.2v2.5h-2.2zM77.7 95.1h6.5v2.5h-6.5zM112.3 95.1h4.3v2.5h-4.3zM45.4 97.6h2.2v2.5h-2.2zM64.8 97.6h2.2v2.5h-2.2zM73.4 97.6h2.2v2.5h-2.2zM82.1 100.1h6.5v2.5h-6.5zM116.6 100.1h2.2v2.5h-2.2zM66.9 102.6h2.2v2.5h-2.2zM82.1 102.6h6.5v2.5h-6.5zM71.3 105.1h2.2v2.5h-2.2zM77.7 105.1h13v2.5h-13zM131.7 105.1h6.5v2.5h-6.5zM125.3 107.6h4.3v2.5h-4.3zM131.7 107.6h2.2v2.5h-2.2zM140.4 107.6h10.8v2.5h-10.8zM127.4 110.1h2.2v2.5h-2.2zM142.5 110.1h8.6v2.5h-8.6zM157.7 110.1h4.3v2.5h-4.3zM196.5 110.1h4.3v2.5h-4.3zM140.4 112.6h4.3v2.5h-4.3zM146.9 112.6h2.2v2.5h-2.2zM162 112.6h10.8v2.5h-10.8zM185.7 112.6h2.2v2.5h-2.2zM213.8 112.6h2.2v2.5h-2.2zM218.1 112.6h2.2v2.5h-2.2zM82.1 115.1h8.6v2.5h-8.6zM140.4 115.1h15.1v2.5h-15.1zM172.8 115.1h10.8v2.5h-10.8zM213.8 115.1h6.5v2.5h-6.5zM222.4 115.1h8.6v2.5h-8.6zM79.9 117.6h2.2v2.5h-2.2zM153.3 117.6h4.3v2.5h-4.3zM174.9 117.6h8.6v2.5h-8.6zM213.8 117.6h6.5v2.5h-6.5zM226.8 117.6h2.2v2.5h-2.2zM66.9 120.1h4.3v2.5h-4.3zM79.9 120.1h2.2v2.5h-2.2zM174.9 120.1h4.3v2.5h-4.3zM196.5 120.1h8.6v2.5h-8.6zM216 120.1h6.5v2.5h-6.5zM71.3 122.6h10.8v2.5h-10.8zM95 122.6h6.5v2.5h-6.5zM125.3 122.6h13v2.5h-13zM146.9 122.6h2.2v2.5h-2.2zM151.2 122.6h6.5v2.5h-6.5zM218.1 122.6h6.5v2.5h-6.5zM77.7 125.1h2.2v2.5h-2.2zM84.2 125.1h8.6v2.5h-8.6zM95 125.1h6.5v2.5h-6.5zM142.5 125.1h4.3v2.5h-4.3zM177.1 125.1h2.2v2.5h-2.2zM192.2 125.1h2.2v2.5h-2.2zM220.3 125.1h6.5v2.5h-6.5zM77.7 127.6h2.2v2.5h-2.2zM84.2 127.6h8.6v2.5h-8.6zM142.5 127.6h2.2v2.5h-2.2zM192.2 127.6h2.2v2.5h-2.2zM207.3 127.6h4.3v2.5h-4.3zM62.6 130.1h2.2v2.5h-2.2zM105.8 130.1h2.2v2.5h-2.2zM116.6 130.1h2.2v2.5h-2.2zM120.9 130.1h2.2v2.5h-2.2zM142.5 130.1h2.2v2.5h-2.2zM192.2 130.1h2.2v2.5h-2.2zM209.5 130.1h2.2v2.5h-2.2zM92.9 132.6h2.2v2.5h-2.2zM192.2 132.6h2.2v2.5h-2.2zM92.9 135.1h2.2v2.5h-2.2zM112.3 135.1h2.2v2.5h-2.2zM144.7 135.1h2.2v2.5h-2.2zM190 135.1h4.3v2.5h-4.3zM82.1 137.6h10.8v2.5h-10.8zM131.7 137.6h2.2v2.5h-2.2zM146.9 137.6h2.2v2.5h-2.2zM190 137.6h4.3v2.5h-4.3zM62.6 140.2h2.2v2.5h-2.2zM79.9 140.2h13v2.5h-13zM146.9 140.2h6.5v2.5h-6.5zM192.2 140.2h6.5v2.5h-6.5zM75.6 142.7h4.3v2.5h-4.3zM149 142.7h6.5v2.5h-6.5zM183.6 142.7h15.1v2.5h-15.1zM203 142.7h2.2v2.5h-2.2zM75.6 145.2h2.2v2.5h-2.2zM177.1 145.2h6.5v2.5h-6.5zM190 145.2h15.1v2.5h-15.1zM157.7 147.7h6.5v2.5h-6.5zM166.3 147.7h15.1v2.5h-15.1zM60.5 150.2h2.2v2.5h-2.2zM153.3 150.2h2.2v2.5h-2.2zM157.7 150.2h10.8v2.5h-10.8zM170.6 150.2h4.3v2.5h-4.3zM177.1 150.2h4.3v2.5h-4.3zM203 150.2h4.3v2.5h-4.3zM155.5 152.7h13v2.5h-13zM170.6 152.7h4.3v2.5h-4.3zM203 152.7h4.3v2.5h-4.3zM164.1 155.2h4.3v2.5h-4.3zM170.6 155.2h4.3v2.5h-4.3zM203 155.2h2.2v2.5h-2.2zM153.3 157.7h2.2v2.5h-2.2zM170.6 157.7h4.3v2.5h-4.3zM203 157.7h2.2v2.5h-2.2zM155.5 160.2h2.2v2.5h-2.2zM179.2 160.2h4.3v2.5h-4.3zM205.2 160.2h6.5v2.5h-6.5zM205.2 162.7h6.5v2.5h-6.5zM190 165.2h2.2v2.5h-2.2zM205.2 165.2h2.2v2.5h-2.2zM209.5 165.2h2.2v2.5h-2.2zM151.2 167.7h2.2v2.5h-2.2zM172.8 167.7h2.2v2.5h-2.2zM209.5 167.7h2.2v2.5h-2.2zM209.5 170.2h2.2v2.5h-2.2zM181.4 172.7h2.2v2.5h-2.2zM209.5 172.7h2.2v2.5h-2.2z"/><path fill="#fa3c3c" d="M131.7 7.5h2.2v2.5h-2.2zM166.3 7.5h8.6v2.5h-8.6zM131.7 10h2.2v2.5h-2.2zM155.5 10h21.6v2.5h-21.6zM149 12.5h28.1v2.5h-28.1zM224.6 12.5h2.2v2.5h-2.2zM146.9 15h30.2v2.5h-30.2zM146.9 17.5h23.8v2.5h-23.8zM274.3 17.5h6.5v2.5h-6.5zM144.7 20h17.3v2.5h-17.3zM254.8 20h10.8v2.5h-10.8zM274.3 20h6.5v2.5h-6.5zM144.7 22.5h15.1v2.5h-15.1zM254.8 22.5h8.6v2.5h-8.6zM274.3 22.5h6.5v2.5h-6.5zM142.5 25h2.2v2.5h-2.2zM146.9 25h13v2.5h-13zM254.8 25h6.5v2.5h-6.5zM270 25h10.8v2.5h-10.8zM140.4 27.5h2.2v2.5h-2.2zM149 27.5h8.6v2.5h-8.6zM274.3 27.5h6.5v2.5h-6.5zM272.1 130.1h2.2v2.5h-2.2zM270 132.6h4.3v2.5h-4.3zM263.5 135.1h6.5v2.5h-6.5zM263.5 137.6h6.5v2.5h-6.5zM267.8 142.7h4.3v2.5h-4.3zM267.8 145.2h8.6v2.5h-8.6zM267.8 147.7h6.5v2.5h-6.5zM259.2 152.7h6.5v2.5h-6.5z"/><path fill="#0a32fa" d="M73.4 70.1h6.5v2.5h-6.5zM71.3 72.6h8.6v2.5h-8.6zM56.1 82.6h2.2v2.5h-2.2zM54 85.1h6.5v2.5h-6.5zM51.8 87.6h6.5v2.5h-6.5zM49.7 90.1h8.6v2.5h-8.6zM86.4 90.1h2.2v2.5h-2.2zM43.2 92.6h15.1v2.5h-15.1zM66.9 92.6h13v2.5h-13zM105.8 92.6h6.5v2.5h-6.5zM43.2 95.1h8.6v2.5h-8.6zM54 95.1h2.2v2.5h-2.2zM71.3 95.1h2.2v2.5h-2.2zM75.6 95.1h2.2v2.5h-2.2zM88.5 95.1h6.5v2.5h-6.5zM103.7 95.1h8.6v2.5h-8.6zM71.3 97.6h2.2v2.5h-2.2zM82.1 97.6h13v2.5h-13zM103.7 97.6h13v2.5h-13zM71.3 100.1h4.3v2.5h-4.3zM90.7 100.1h2.2v2.5h-2.2zM103.7 100.1h13v2.5h-13zM69.1 102.6h2.2v2.5h-2.2zM90.7 102.6h2.2v2.5h-2.2zM97.2 102.6h21.6v2.5h-21.6zM64.8 105.1h6.5v2.5h-6.5zM92.9 105.1h32.4v2.5h-32.4zM62.6 107.6h6.5v2.5h-6.5zM73.4 107.6h2.2v2.5h-2.2zM82.1 107.6h2.2v2.5h-2.2zM90.7 107.6h34.6v2.5h-34.6zM133.9 107.6h4.3v2.5h-4.3zM73.4 110.1h4.3v2.5h-4.3zM86.4 110.1h2.2v2.5h-2.2zM90.7 110.1h36.7v2.5h-36.7zM129.6 110.1h13v2.5h-13zM73.4 112.6h66.9v2.5h-66.9zM149 112.6h13v2.5h-13zM216 112.6h2.2v2.5h-2.2zM66.9 115.1h15.1v2.5h-15.1zM90.7 115.1h49.7v2.5h-49.7zM155.5 115.1h17.3v2.5h-17.3zM66.9 117.6h13v2.5h-13zM95 117.6h38.9v2.5h-38.9zM157.7 117.6h17.3v2.5h-17.3zM71.3 120.1h4.3v2.5h-4.3zM95 120.1h36.7v2.5h-36.7zM157.7 120.1h17.3v2.5h-17.3zM101.5 122.6h23.8v2.5h-23.8zM157.7 122.6h19.4v2.5h-19.4zM192.2 122.6h13v2.5h-13zM79.9 125.1h4.3v2.5h-4.3zM101.5 125.1h21.6v2.5h-21.6zM146.9 125.1h30.2v2.5h-30.2zM194.4 125.1h10.8v2.5h-10.8zM79.9 127.6h4.3v2.5h-4.3zM103.7 127.6h19.4v2.5h-19.4zM144.7 127.6h32.4v2.5h-32.4zM194.4 127.6h13v2.5h-13zM79.9 130.1h13v2.5h-13zM108 130.1h6.5v2.5h-6.5zM144.7 130.1h10.8v2.5h-10.8zM157.7 130.1h21.6v2.5h-21.6zM194.4 130.1h15.1v2.5h-15.1zM79.9 132.6h13v2.5h-13zM110.1 132.6h4.3v2.5h-4.3zM144.7 132.6h34.6v2.5h-34.6zM194.4 132.6h19.4v2.5h-19.4zM79.9 135.1h13v2.5h-13zM146.9 135.1h34.6v2.5h-34.6zM194.4 135.1h19.4v2.5h-19.4zM77.7 137.6h4.3v2.5h-4.3zM149 137.6h32.4v2.5h-32.4zM194.4 137.6h17.3v2.5h-17.3zM77.7 140.2h2.2v2.5h-2.2zM153.3 140.2h28.1v2.5h-28.1zM203 140.2h8.6v2.5h-8.6zM155.5 142.7h25.9v2.5h-25.9zM205.2 142.7h6.5v2.5h-6.5zM157.7 145.2h19.4v2.5h-19.4zM183.6 145.2h6.5v2.5h-6.5zM164.1 147.7h2.2v2.5h-2.2zM181.4 147.7h21.6v2.5h-21.6zM168.4 150.2h2.2v2.5h-2.2zM174.9 150.2h2.2v2.5h-2.2zM181.4 150.2h21.6v2.5h-21.6zM168.4 152.7h2.2v2.5h-2.2zM174.9 152.7h25.9v2.5h-25.9zM168.4 155.2h2.2v2.5h-2.2zM174.9 155.2h23.8v2.5h-23.8zM174.9 157.7h15.1v2.5h-15.1zM153.3 160.2h2.2v2.5h-2.2zM183.6 160.2h4.3v2.5h-4.3zM153.3 162.7h2.2v2.5h-2.2zM174.9 162.7h2.2v2.5h-2.2zM196.5 162.7h4.3v2.5h-4.3zM153.3 165.2h2.2v2.5h-2.2zM174.9 165.2h2.2v2.5h-2.2zM196.5 165.2h4.3v2.5h-4.3zM207.3 165.2h2.2v2.5h-2.2zM174.9 167.7h6.5v2.5h-6.5zM196.5 167.7h13v2.5h-13zM174.9 170.2h6.5v2.5h-6.5zM200.8 170.2h8.6v2.5h-8.6zM174.9 172.7h6.5v2.5h-6.5zM200.8 172.7h8.6v2.5h-8.6zM211.6 172.7h2.2v2.5h-2.2zM179.2 175.2h8.6v2.5h-8.6zM179.2 177.7h8.6v2.5h-8.6z"/></g>
<use href="#coast"/>
</g>
<rect x="0" y="0" width="280.8" height="185.2" fill="none" stroke="#2a2a2a" stroke-width="1.1"/>
<g><line x1="-3" y1="10" x2="0" y2="10" stroke="#555" stroke-width="0.9"/><text class="ax" x="-5.3" y="13.2" text-anchor="end" textLength="14.8" lengthAdjust="spacingAndGlyphs">70N</text><line x1="-3" y1="60.1" x2="0" y2="60.1" stroke="#555" stroke-width="0.9"/><text class="ax" x="-5.3" y="63.3" text-anchor="end" textLength="14.8" lengthAdjust="spacingAndGlyphs">60N</text><line x1="-3" y1="110.1" x2="0" y2="110.1" stroke="#555" stroke-width="0.9"/><text class="ax" x="-5.3" y="113.3" text-anchor="end" textLength="14.8" lengthAdjust="spacingAndGlyphs">50N</text><line x1="-3" y1="160.2" x2="0" y2="160.2" stroke="#555" stroke-width="0.9"/><text class="ax" x="-5.3" y="163.4" text-anchor="end" textLength="14.8" lengthAdjust="spacingAndGlyphs">40N</text><line x1="0" y1="185.2" x2="0" y2="188" stroke="#555" stroke-width="0.9"/><text class="ax" x="0" y="196.3" text-anchor="middle" textLength="14.6" lengthAdjust="spacingAndGlyphs">20W</text><line x1="43.2" y1="185.2" x2="43.2" y2="188" stroke="#555" stroke-width="0.9"/><text class="ax" x="43.2" y="196.3" text-anchor="middle" textLength="14.6" lengthAdjust="spacingAndGlyphs">10W</text><line x1="86.4" y1="185.2" x2="86.4" y2="188" stroke="#555" stroke-width="0.9"/><text class="ax" x="86.4" y="196.3" text-anchor="middle">0</text><line x1="129.6" y1="185.2" x2="129.6" y2="188" stroke="#555" stroke-width="0.9"/><text class="ax" x="129.6" y="196.3" text-anchor="middle" textLength="14.6" lengthAdjust="spacingAndGlyphs">10E</text><line x1="172.8" y1="185.2" x2="172.8" y2="188" stroke="#555" stroke-width="0.9"/><text class="ax" x="172.8" y="196.3" text-anchor="middle" textLength="14.6" lengthAdjust="spacingAndGlyphs">20E</text><line x1="216" y1="185.2" x2="216" y2="188" stroke="#555" stroke-width="0.9"/><text class="ax" x="216" y="196.3" text-anchor="middle" textLength="14.6" lengthAdjust="spacingAndGlyphs">30E</text><line x1="259.2" y1="185.2" x2="259.2" y2="188" stroke="#555" stroke-width="0.9"/><text class="ax" x="259.2" y="196.3" text-anchor="middle" textLength="14.6" lengthAdjust="spacingAndGlyphs">40E</text><rect x="77.6" y="201.1" width="25.2" height="6.2" fill="#0a32fa"/><rect x="102.7" y="201.1" width="25.2" height="6.2" fill="#00cd19"/><rect x="127.8" y="201.1" width="25.2" height="6.2" fill="#e8dc0a"/><rect x="152.9" y="201.1" width="25.2" height="6.2" fill="#fa3c3c"/><rect x="178" y="201.1" width="25.2" height="6.2" fill="#c0c0c0"/><text class="cb" x="102.7" y="212.9">−2</text><text class="cb" x="127.8" y="212.9">−1</text><text class="cb" x="152.9" y="212.9">1</text><text class="cb" x="178" y="212.9">2</text></g>
</g>
<text class="lt" x="864.3" y="553.9">(<tspan font-weight="bold">f</tspan>)</text>
<g transform="translate(29.5,584.6) scale(1.0036,1.0022)">
<text class="t" transform="translate(140.1,-14.0) scale(0.82,1)" word-spacing="4.8" letter-spacing="0.12">STABILITY MAP EAWR JFM − PP MAM</text>
<text class="t" x="140.1" y="-4.6" textLength="49.3" lengthAdjust="spacingAndGlyphs">1950−2012</text>
<g clip-path="url(#cp)">
<g shape-rendering="crispEdges"><path fill="#e8dc0a" d="M187.9 2.5h6.5v2.5h-6.5zM198.7 2.5h8.6v2.5h-8.6zM179.2 5h10.8v2.5h-10.8zM205.2 5h2.2v2.5h-2.2zM174.9 7.5h13v2.5h-13zM207.3 7.5h2.2v2.5h-2.2zM170.6 10h13v2.5h-13zM209.5 10h2.2v2.5h-2.2zM168.4 12.5h13v2.5h-13zM207.3 12.5h4.3v2.5h-4.3zM235.4 12.5h4.3v2.5h-4.3zM166.3 15h8.6v2.5h-8.6zM181.4 15h2.2v2.5h-2.2zM198.7 15h13v2.5h-13zM157.7 17.5h8.6v2.5h-8.6zM168.4 17.5h34.6v2.5h-34.6zM151.2 20h6.5v2.5h-6.5zM164.1 20h2.2v2.5h-2.2zM153.3 22.5h2.2v2.5h-2.2zM153.3 25h2.2v2.5h-2.2zM157.7 25h2.2v2.5h-2.2zM153.3 27.5h6.5v2.5h-6.5zM19.4 32.5h4.3v2.5h-4.3zM66.9 80.1h4.3v2.5h-4.3zM75.6 80.1h2.2v2.5h-2.2zM60.5 82.6h4.3v2.5h-4.3zM75.6 82.6h2.2v2.5h-2.2zM60.5 85.1h4.3v2.5h-4.3zM73.4 85.1h2.2v2.5h-2.2zM60.5 87.6h8.6v2.5h-8.6zM73.4 87.6h2.2v2.5h-2.2zM77.7 87.6h2.2v2.5h-2.2zM41 90.1h2.2v2.5h-2.2zM45.4 90.1h4.3v2.5h-4.3zM41 92.6h2.2v2.5h-2.2zM45.4 97.6h2.2v2.5h-2.2zM181.4 160.2h2.2v2.5h-2.2z"/><path fill="#00cd19" d="M187.9 90.1h2.2v2.5h-2.2zM174.9 100.1h2.2v2.5h-2.2zM172.8 102.6h2.2v2.5h-2.2zM136.1 107.6h4.3v2.5h-4.3zM133.9 110.1h2.2v2.5h-2.2zM144.7 112.6h2.2v2.5h-2.2zM216 112.6h8.6v2.5h-8.6zM142.5 115.1h4.3v2.5h-4.3zM222.4 115.1h2.2v2.5h-2.2zM172.8 117.6h2.2v2.5h-2.2zM185.7 117.6h2.2v2.5h-2.2zM222.4 117.6h2.2v2.5h-2.2zM200.8 120.1h6.5v2.5h-6.5zM209.5 120.1h2.2v2.5h-2.2zM222.4 120.1h2.2v2.5h-2.2zM209.5 122.6h2.2v2.5h-2.2zM222.4 122.6h2.2v2.5h-2.2zM209.5 125.1h2.2v2.5h-2.2zM181.4 127.6h2.2v2.5h-2.2zM118.8 130.1h2.2v2.5h-2.2zM174.9 130.1h2.2v2.5h-2.2zM209.5 130.1h2.2v2.5h-2.2zM194.4 132.6h6.5v2.5h-6.5zM151.2 135.1h2.2v2.5h-2.2zM157.7 137.6h2.2v2.5h-2.2zM164.1 137.6h4.3v2.5h-4.3zM170.6 137.6h2.2v2.5h-2.2zM157.7 140.2h10.8v2.5h-10.8zM172.8 140.2h2.2v2.5h-2.2zM192.2 140.2h2.2v2.5h-2.2zM162 142.7h6.5v2.5h-6.5zM172.8 142.7h2.2v2.5h-2.2zM192.2 142.7h2.2v2.5h-2.2zM164.1 145.2h2.2v2.5h-2.2zM172.8 145.2h2.2v2.5h-2.2zM205.2 145.2h2.2v2.5h-2.2zM168.4 147.7h6.5v2.5h-6.5zM168.4 150.2h4.3v2.5h-4.3zM92.9 175.2h2.2v2.5h-2.2z"/><path fill="#fa3c3c" d="M194.4 2.5h4.3v2.5h-4.3zM190 5h15.1v2.5h-15.1zM187.9 7.5h19.4v2.5h-19.4zM183.6 10h25.9v2.5h-25.9zM181.4 12.5h25.9v2.5h-25.9zM174.9 15h6.5v2.5h-6.5zM183.6 15h15.1v2.5h-15.1zM157.7 20h6.5v2.5h-6.5zM155.5 22.5h6.5v2.5h-6.5zM155.5 25h2.2v2.5h-2.2zM69.1 75.1h2.2v2.5h-2.2zM66.9 77.6h4.3v2.5h-4.3zM69.1 82.6h4.3v2.5h-4.3zM69.1 85.1h4.3v2.5h-4.3z"/><path fill="#0a32fa" d="M140.4 107.6h2.2v2.5h-2.2zM136.1 110.1h8.6v2.5h-8.6zM136.1 112.6h8.6v2.5h-8.6zM138.2 115.1h4.3v2.5h-4.3zM216 115.1h6.5v2.5h-6.5zM211.6 117.6h10.8v2.5h-10.8zM187.9 120.1h2.2v2.5h-2.2zM196.5 120.1h4.3v2.5h-4.3zM211.6 120.1h10.8v2.5h-10.8zM185.7 122.6h23.8v2.5h-23.8zM211.6 122.6h10.8v2.5h-10.8zM183.6 125.1h25.9v2.5h-25.9zM211.6 125.1h8.6v2.5h-8.6zM183.6 127.6h34.6v2.5h-34.6zM194.4 130.1h13v2.5h-13zM211.6 130.1h4.3v2.5h-4.3zM211.6 132.6h4.3v2.5h-4.3zM211.6 135.1h4.3v2.5h-4.3zM159.8 137.6h4.3v2.5h-4.3zM168.4 140.2h4.3v2.5h-4.3zM168.4 142.7h4.3v2.5h-4.3zM187.9 142.7h4.3v2.5h-4.3zM166.3 145.2h6.5v2.5h-6.5z"/></g>
<use href="#coast"/>
</g>
<rect x="0" y="0" width="280.8" height="185.2" fill="none" stroke="#2a2a2a" stroke-width="1.1"/>
<g><line x1="-3" y1="10" x2="0" y2="10" stroke="#555" stroke-width="0.9"/><text class="ax" x="-5.3" y="13.2" text-anchor="end" textLength="14.8" lengthAdjust="spacingAndGlyphs">70N</text><line x1="-3" y1="60.1" x2="0" y2="60.1" stroke="#555" stroke-width="0.9"/><text class="ax" x="-5.3" y="63.3" text-anchor="end" textLength="14.8" lengthAdjust="spacingAndGlyphs">60N</text><line x1="-3" y1="110.1" x2="0" y2="110.1" stroke="#555" stroke-width="0.9"/><text class="ax" x="-5.3" y="113.3" text-anchor="end" textLength="14.8" lengthAdjust="spacingAndGlyphs">50N</text><line x1="-3" y1="160.2" x2="0" y2="160.2" stroke="#555" stroke-width="0.9"/><text class="ax" x="-5.3" y="163.4" text-anchor="end" textLength="14.8" lengthAdjust="spacingAndGlyphs">40N</text><line x1="0" y1="185.2" x2="0" y2="188" stroke="#555" stroke-width="0.9"/><text class="ax" x="0" y="196.3" text-anchor="middle" textLength="14.6" lengthAdjust="spacingAndGlyphs">20W</text><line x1="43.2" y1="185.2" x2="43.2" y2="188" stroke="#555" stroke-width="0.9"/><text class="ax" x="43.2" y="196.3" text-anchor="middle" textLength="14.6" lengthAdjust="spacingAndGlyphs">10W</text><line x1="86.4" y1="185.2" x2="86.4" y2="188" stroke="#555" stroke-width="0.9"/><text class="ax" x="86.4" y="196.3" text-anchor="middle">0</text><line x1="129.6" y1="185.2" x2="129.6" y2="188" stroke="#555" stroke-width="0.9"/><text class="ax" x="129.6" y="196.3" text-anchor="middle" textLength="14.6" lengthAdjust="spacingAndGlyphs">10E</text><line x1="172.8" y1="185.2" x2="172.8" y2="188" stroke="#555" stroke-width="0.9"/><text class="ax" x="172.8" y="196.3" text-anchor="middle" textLength="14.6" lengthAdjust="spacingAndGlyphs">20E</text><line x1="216" y1="185.2" x2="216" y2="188" stroke="#555" stroke-width="0.9"/><text class="ax" x="216" y="196.3" text-anchor="middle" textLength="14.6" lengthAdjust="spacingAndGlyphs">30E</text><line x1="259.2" y1="185.2" x2="259.2" y2="188" stroke="#555" stroke-width="0.9"/><text class="ax" x="259.2" y="196.3" text-anchor="middle" textLength="14.6" lengthAdjust="spacingAndGlyphs">40E</text><rect x="77.6" y="201.1" width="25.2" height="6.2" fill="#0a32fa"/><rect x="102.7" y="201.1" width="25.2" height="6.2" fill="#00cd19"/><rect x="127.8" y="201.1" width="25.2" height="6.2" fill="#e8dc0a"/><rect x="152.9" y="201.1" width="25.2" height="6.2" fill="#fa3c3c"/><rect x="178" y="201.1" width="25.2" height="6.2" fill="#c0c0c0"/><text class="cb" x="102.7" y="212.9">−2</text><text class="cb" x="127.8" y="212.9">−1</text><text class="cb" x="152.9" y="212.9">1</text><text class="cb" x="178" y="212.9">2</text></g>
</g>
<text class="lt" x="161" y="831.9">(<tspan font-weight="bold">g</tspan>)</text>
<g transform="translate(378.4,584.8) scale(1.0080,1.0016)">
<text class="t" transform="translate(140.1,-14.0) scale(0.82,1)" word-spacing="4.8" letter-spacing="0.12">STABILITY MAP EAWR JFM − TT MAM</text>
<text class="t" x="140.1" y="-4.6" textLength="49.3" lengthAdjust="spacingAndGlyphs">1950−2012</text>
<g clip-path="url(#cp)">
<g shape-rendering="crispEdges"><path fill="#e8dc0a" d="M125.3 37.5h6.5v2.5h-6.5zM127.4 40h4.3v2.5h-4.3zM127.4 42.5h4.3v2.5h-4.3zM120.9 45h4.3v2.5h-4.3zM116.6 47.6h6.5v2.5h-6.5zM142.5 47.6h6.5v2.5h-6.5zM153.3 47.6h6.5v2.5h-6.5zM164.1 47.6h2.2v2.5h-2.2zM108 50.1h2.2v2.5h-2.2zM112.3 50.1h8.6v2.5h-8.6zM142.5 50.1h2.2v2.5h-2.2zM146.9 50.1h2.2v2.5h-2.2zM105.8 52.6h15.1v2.5h-15.1zM146.9 52.6h2.2v2.5h-2.2zM162 52.6h2.2v2.5h-2.2zM77.7 55.1h6.5v2.5h-6.5zM88.5 55.1h4.3v2.5h-4.3zM105.8 55.1h17.3v2.5h-17.3zM162 55.1h2.2v2.5h-2.2zM77.7 57.6h6.5v2.5h-6.5zM108 57.6h15.1v2.5h-15.1zM79.9 60.1h2.2v2.5h-2.2zM108 60.1h15.1v2.5h-15.1zM149 60.1h15.1v2.5h-15.1zM110.1 62.6h8.6v2.5h-8.6zM146.9 62.6h19.4v2.5h-19.4zM110.1 65.1h8.6v2.5h-8.6zM146.9 65.1h8.6v2.5h-8.6zM159.8 65.1h6.5v2.5h-6.5zM110.1 67.6h2.2v2.5h-2.2zM138.2 67.6h15.1v2.5h-15.1zM159.8 67.6h2.2v2.5h-2.2zM73.4 70.1h6.5v2.5h-6.5zM138.2 70.1h17.3v2.5h-17.3zM159.8 70.1h2.2v2.5h-2.2zM73.4 72.6h6.5v2.5h-6.5zM138.2 72.6h17.3v2.5h-17.3zM159.8 72.6h2.2v2.5h-2.2zM73.4 75.1h6.5v2.5h-6.5zM140.4 75.1h19.4v2.5h-19.4zM75.6 77.6h2.2v2.5h-2.2zM140.4 77.6h17.3v2.5h-17.3zM73.4 80.1h4.3v2.5h-4.3zM79.9 80.1h2.2v2.5h-2.2zM142.5 80.1h6.5v2.5h-6.5zM73.4 82.6h2.2v2.5h-2.2zM82.1 82.6h2.2v2.5h-2.2zM127.4 82.6h25.9v2.5h-25.9zM73.4 85.1h2.2v2.5h-2.2zM120.9 85.1h21.6v2.5h-21.6zM144.7 85.1h8.6v2.5h-8.6zM73.4 87.6h4.3v2.5h-4.3zM120.9 87.6h15.1v2.5h-15.1zM144.7 87.6h8.6v2.5h-8.6zM75.6 90.1h2.2v2.5h-2.2zM86.4 90.1h2.2v2.5h-2.2zM114.5 90.1h19.4v2.5h-19.4zM146.9 90.1h10.8v2.5h-10.8zM75.6 92.6h4.3v2.5h-4.3zM108 92.6h8.6v2.5h-8.6zM149 92.6h4.3v2.5h-4.3zM75.6 95.1h4.3v2.5h-4.3zM92.9 95.1h2.2v2.5h-2.2zM108 95.1h4.3v2.5h-4.3zM125.3 95.1h4.3v2.5h-4.3zM140.4 95.1h13v2.5h-13zM73.4 97.6h6.5v2.5h-6.5zM92.9 97.6h2.2v2.5h-2.2zM103.7 97.6h6.5v2.5h-6.5zM125.3 97.6h6.5v2.5h-6.5zM140.4 97.6h17.3v2.5h-17.3zM71.3 100.1h8.6v2.5h-8.6zM97.2 100.1h10.8v2.5h-10.8zM149 100.1h8.6v2.5h-8.6zM69.1 102.6h10.8v2.5h-10.8zM90.7 102.6h13v2.5h-13zM149 102.6h8.6v2.5h-8.6zM69.1 105.1h19.4v2.5h-19.4zM90.7 105.1h8.6v2.5h-8.6zM118.8 105.1h6.5v2.5h-6.5zM146.9 105.1h10.8v2.5h-10.8zM92.9 107.6h4.3v2.5h-4.3zM118.8 107.6h6.5v2.5h-6.5zM140.4 107.6h15.1v2.5h-15.1zM75.6 110.1h2.2v2.5h-2.2zM103.7 110.1h8.6v2.5h-8.6zM118.8 110.1h6.5v2.5h-6.5zM140.4 110.1h15.1v2.5h-15.1zM75.6 112.6h2.2v2.5h-2.2zM79.9 112.6h6.5v2.5h-6.5zM95 112.6h21.6v2.5h-21.6zM140.4 112.6h15.1v2.5h-15.1zM77.7 115.1h43.2v2.5h-43.2zM138.2 115.1h17.3v2.5h-17.3zM77.7 117.6h41v2.5h-41zM138.2 117.6h19.4v2.5h-19.4zM79.9 120.1h21.6v2.5h-21.6zM110.1 120.1h6.5v2.5h-6.5zM136.1 120.1h8.6v2.5h-8.6zM151.2 120.1h6.5v2.5h-6.5zM71.3 122.6h2.2v2.5h-2.2zM79.9 122.6h6.5v2.5h-6.5zM88.5 122.6h13v2.5h-13zM110.1 122.6h4.3v2.5h-4.3zM125.3 122.6h19.4v2.5h-19.4zM151.2 122.6h6.5v2.5h-6.5zM79.9 125.1h6.5v2.5h-6.5zM95 125.1h4.3v2.5h-4.3zM110.1 125.1h2.2v2.5h-2.2zM125.3 125.1h19.4v2.5h-19.4zM151.2 125.1h4.3v2.5h-4.3zM82.1 127.6h4.3v2.5h-4.3zM95 127.6h17.3v2.5h-17.3zM118.8 127.6h4.3v2.5h-4.3zM125.3 127.6h19.4v2.5h-19.4zM62.6 130.1h2.2v2.5h-2.2zM82.1 130.1h6.5v2.5h-6.5zM92.9 130.1h23.8v2.5h-23.8zM125.3 130.1h13v2.5h-13zM140.4 130.1h4.3v2.5h-4.3zM82.1 132.6h17.3v2.5h-17.3zM105.8 132.6h10.8v2.5h-10.8zM123.1 132.6h8.6v2.5h-8.6zM136.1 132.6h2.2v2.5h-2.2zM140.4 132.6h2.2v2.5h-2.2zM82.1 135.1h17.3v2.5h-17.3zM108 135.1h8.6v2.5h-8.6zM120.9 135.1h21.6v2.5h-21.6zM82.1 137.6h15.1v2.5h-15.1zM112.3 137.6h6.5v2.5h-6.5zM129.6 137.6h13v2.5h-13zM56.1 140.2h2.2v2.5h-2.2zM82.1 140.2h8.6v2.5h-8.6zM114.5 140.2h2.2v2.5h-2.2zM136.1 140.2h4.3v2.5h-4.3zM51.8 142.7h4.3v2.5h-4.3zM77.7 142.7h8.6v2.5h-8.6zM114.5 142.7h2.2v2.5h-2.2zM136.1 142.7h4.3v2.5h-4.3zM73.4 145.2h6.5v2.5h-6.5zM71.3 147.7h8.6v2.5h-8.6zM95 147.7h6.5v2.5h-6.5zM71.3 150.2h30.2v2.5h-30.2zM79.9 152.7h10.8v2.5h-10.8zM79.9 155.2h6.5v2.5h-6.5z"/><path fill="#00cd19" d="M261.3 155.2h4.3v2.5h-4.3zM274.3 155.2h2.2v2.5h-2.2zM257 157.7h4.3v2.5h-4.3zM274.3 157.7h2.2v2.5h-2.2zM252.7 160.2h6.5v2.5h-6.5zM276.4 160.2h2.2v2.5h-2.2zM252.7 162.7h4.3v2.5h-4.3zM254.8 165.2h2.2v2.5h-2.2zM254.8 167.7h2.2v2.5h-2.2zM254.8 170.2h2.2v2.5h-2.2zM261.3 170.2h8.6v2.5h-8.6zM278.6 170.2h2.2v2.5h-2.2zM270 172.7h8.6v2.5h-8.6zM239.7 180.2h4.3v2.5h-4.3z"/><path fill="#fa3c3c" d="M120.9 40h6.5v2.5h-6.5zM116.6 42.5h10.8v2.5h-10.8zM112.3 45h8.6v2.5h-8.6zM110.1 47.6h6.5v2.5h-6.5zM110.1 50.1h2.2v2.5h-2.2zM155.5 65.1h4.3v2.5h-4.3zM153.3 67.6h6.5v2.5h-6.5zM155.5 70.1h4.3v2.5h-4.3zM155.5 72.6h4.3v2.5h-4.3zM77.7 80.1h2.2v2.5h-2.2zM75.6 82.6h6.5v2.5h-6.5zM75.6 85.1h8.6v2.5h-8.6zM142.5 85.1h2.2v2.5h-2.2zM77.7 87.6h8.6v2.5h-8.6zM136.1 87.6h8.6v2.5h-8.6zM77.7 90.1h8.6v2.5h-8.6zM133.9 90.1h13v2.5h-13zM79.9 92.6h8.6v2.5h-8.6zM116.6 92.6h32.4v2.5h-32.4zM79.9 95.1h13v2.5h-13zM112.3 95.1h13v2.5h-13zM129.6 95.1h10.8v2.5h-10.8zM79.9 97.6h13v2.5h-13zM110.1 97.6h15.1v2.5h-15.1zM131.7 97.6h8.6v2.5h-8.6zM79.9 100.1h13v2.5h-13zM108 100.1h41v2.5h-41zM79.9 102.6h10.8v2.5h-10.8zM103.7 102.6h45.4v2.5h-45.4zM99.3 105.1h19.4v2.5h-19.4zM125.3 105.1h21.6v2.5h-21.6zM90.7 107.6h2.2v2.5h-2.2zM97.2 107.6h21.6v2.5h-21.6zM125.3 107.6h15.1v2.5h-15.1zM86.4 110.1h17.3v2.5h-17.3zM112.3 110.1h6.5v2.5h-6.5zM125.3 110.1h15.1v2.5h-15.1zM86.4 112.6h8.6v2.5h-8.6zM116.6 112.6h23.8v2.5h-23.8zM120.9 115.1h17.3v2.5h-17.3zM118.8 117.6h19.4v2.5h-19.4zM116.6 120.1h19.4v2.5h-19.4zM114.5 122.6h10.8v2.5h-10.8zM112.3 125.1h13v2.5h-13zM112.3 127.6h6.5v2.5h-6.5zM138.2 130.1h2.2v2.5h-2.2zM99.3 132.6h6.5v2.5h-6.5zM131.7 132.6h4.3v2.5h-4.3zM138.2 132.6h2.2v2.5h-2.2zM99.3 135.1h8.6v2.5h-8.6zM97.2 137.6h15.1v2.5h-15.1zM90.7 140.2h23.8v2.5h-23.8zM86.4 142.7h28.1v2.5h-28.1zM79.9 145.2h23.8v2.5h-23.8zM79.9 147.7h15.1v2.5h-15.1z"/><path fill="#0a32fa" d="M265.6 155.2h8.6v2.5h-8.6zM261.3 157.7h13v2.5h-13zM259.2 160.2h17.3v2.5h-17.3zM257 162.7h23.8v2.5h-23.8zM257 165.2h23.8v2.5h-23.8zM257 167.7h23.8v2.5h-23.8zM257 170.2h4.3v2.5h-4.3zM270 170.2h8.6v2.5h-8.6z"/></g>
<use href="#coast"/>
</g>
<rect x="0" y="0" width="280.8" height="185.2" fill="none" stroke="#2a2a2a" stroke-width="1.1"/>
<g><line x1="-3" y1="10" x2="0" y2="10" stroke="#555" stroke-width="0.9"/><text class="ax" x="-5.3" y="13.2" text-anchor="end" textLength="14.8" lengthAdjust="spacingAndGlyphs">70N</text><line x1="-3" y1="60.1" x2="0" y2="60.1" stroke="#555" stroke-width="0.9"/><text class="ax" x="-5.3" y="63.3" text-anchor="end" textLength="14.8" lengthAdjust="spacingAndGlyphs">60N</text><line x1="-3" y1="110.1" x2="0" y2="110.1" stroke="#555" stroke-width="0.9"/><text class="ax" x="-5.3" y="113.3" text-anchor="end" textLength="14.8" lengthAdjust="spacingAndGlyphs">50N</text><line x1="-3" y1="160.2" x2="0" y2="160.2" stroke="#555" stroke-width="0.9"/><text class="ax" x="-5.3" y="163.4" text-anchor="end" textLength="14.8" lengthAdjust="spacingAndGlyphs">40N</text><line x1="0" y1="185.2" x2="0" y2="188" stroke="#555" stroke-width="0.9"/><text class="ax" x="0" y="196.3" text-anchor="middle" textLength="14.6" lengthAdjust="spacingAndGlyphs">20W</text><line x1="43.2" y1="185.2" x2="43.2" y2="188" stroke="#555" stroke-width="0.9"/><text class="ax" x="43.2" y="196.3" text-anchor="middle" textLength="14.6" lengthAdjust="spacingAndGlyphs">10W</text><line x1="86.4" y1="185.2" x2="86.4" y2="188" stroke="#555" stroke-width="0.9"/><text class="ax" x="86.4" y="196.3" text-anchor="middle">0</text><line x1="129.6" y1="185.2" x2="129.6" y2="188" stroke="#555" stroke-width="0.9"/><text class="ax" x="129.6" y="196.3" text-anchor="middle" textLength="14.6" lengthAdjust="spacingAndGlyphs">10E</text><line x1="172.8" y1="185.2" x2="172.8" y2="188" stroke="#555" stroke-width="0.9"/><text class="ax" x="172.8" y="196.3" text-anchor="middle" textLength="14.6" lengthAdjust="spacingAndGlyphs">20E</text><line x1="216" y1="185.2" x2="216" y2="188" stroke="#555" stroke-width="0.9"/><text class="ax" x="216" y="196.3" text-anchor="middle" textLength="14.6" lengthAdjust="spacingAndGlyphs">30E</text><line x1="259.2" y1="185.2" x2="259.2" y2="188" stroke="#555" stroke-width="0.9"/><text class="ax" x="259.2" y="196.3" text-anchor="middle" textLength="14.6" lengthAdjust="spacingAndGlyphs">40E</text><rect x="77.6" y="201.1" width="25.2" height="6.2" fill="#0a32fa"/><rect x="102.7" y="201.1" width="25.2" height="6.2" fill="#00cd19"/><rect x="127.8" y="201.1" width="25.2" height="6.2" fill="#e8dc0a"/><rect x="152.9" y="201.1" width="25.2" height="6.2" fill="#fa3c3c"/><rect x="178" y="201.1" width="25.2" height="6.2" fill="#c0c0c0"/><text class="cb" x="102.7" y="212.9">−2</text><text class="cb" x="127.8" y="212.9">−1</text><text class="cb" x="152.9" y="212.9">1</text><text class="cb" x="178" y="212.9">2</text></g>
</g>
<text class="lt" x="510.3" y="831.9">(<tspan font-weight="bold">h</tspan>)</text>
<g transform="translate(732.5,584.8) scale(1.0066,1.0016)">
<text class="t" transform="translate(140.1,-14.0) scale(0.82,1)" word-spacing="4.8" letter-spacing="0.12">STABILITY MAP EAWR JFM − SPEI3 MAM</text>
<text class="t" x="140.1" y="-4.6" textLength="49.3" lengthAdjust="spacingAndGlyphs">1950−2012</text>
<g clip-path="url(#cp)">
<g shape-rendering="crispEdges"><path fill="#e8dc0a" d="M185.7 5h8.6v2.5h-8.6zM209.5 5h4.3v2.5h-4.3zM131.7 7.5h2.2v2.5h-2.2zM190 7.5h4.3v2.5h-4.3zM209.5 7.5h4.3v2.5h-4.3zM131.7 10h2.2v2.5h-2.2zM190 10h6.5v2.5h-6.5zM207.3 10h6.5v2.5h-6.5zM222.4 10h4.3v2.5h-4.3zM190 12.5h6.5v2.5h-6.5zM198.7 12.5h8.6v2.5h-8.6zM226.8 12.5h4.3v2.5h-4.3zM226.8 15h4.3v2.5h-4.3zM278.6 15h2.2v2.5h-2.2zM144.7 17.5h2.2v2.5h-2.2zM144.7 20h4.3v2.5h-4.3zM252.7 22.5h2.2v2.5h-2.2zM144.7 25h4.3v2.5h-4.3zM252.7 25h2.2v2.5h-2.2zM144.7 27.5h6.5v2.5h-6.5zM257 27.5h4.3v2.5h-4.3zM270 27.5h2.2v2.5h-2.2zM6.5 40h8.6v2.5h-8.6zM267.8 137.6h2.2v2.5h-2.2zM270 145.2h6.5v2.5h-6.5zM265.6 147.7h2.2v2.5h-2.2z"/><path fill="#00cd19" d="M187.9 50.1h4.3v2.5h-4.3zM187.9 52.6h4.3v2.5h-4.3zM73.4 70.1h4.3v2.5h-4.3zM103.7 97.6h2.2v2.5h-2.2zM103.7 100.1h2.2v2.5h-2.2zM97.2 102.6h10.8v2.5h-10.8zM136.1 102.6h8.6v2.5h-8.6zM92.9 105.1h2.2v2.5h-2.2zM108 105.1h8.6v2.5h-8.6zM125.3 105.1h8.6v2.5h-8.6zM136.1 105.1h10.8v2.5h-10.8zM92.9 107.6h2.2v2.5h-2.2zM112.3 107.6h4.3v2.5h-4.3zM125.3 107.6h6.5v2.5h-6.5zM149 107.6h4.3v2.5h-4.3zM92.9 110.1h4.3v2.5h-4.3zM112.3 110.1h4.3v2.5h-4.3zM123.1 110.1h4.3v2.5h-4.3zM151.2 110.1h2.2v2.5h-2.2zM196.5 110.1h4.3v2.5h-4.3zM235.4 110.1h2.2v2.5h-2.2zM95 112.6h4.3v2.5h-4.3zM114.5 112.6h6.5v2.5h-6.5zM125.3 112.6h2.2v2.5h-2.2zM151.2 112.6h13v2.5h-13zM196.5 112.6h4.3v2.5h-4.3zM211.6 112.6h2.2v2.5h-2.2zM222.4 112.6h8.6v2.5h-8.6zM235.4 112.6h2.2v2.5h-2.2zM97.2 115.1h2.2v2.5h-2.2zM114.5 115.1h6.5v2.5h-6.5zM125.3 115.1h2.2v2.5h-2.2zM155.5 115.1h2.2v2.5h-2.2zM181.4 115.1h4.3v2.5h-4.3zM97.2 117.6h2.2v2.5h-2.2zM114.5 117.6h13v2.5h-13zM133.9 117.6h6.5v2.5h-6.5zM146.9 117.6h4.3v2.5h-4.3zM174.9 117.6h4.3v2.5h-4.3zM183.6 117.6h4.3v2.5h-4.3zM203 117.6h4.3v2.5h-4.3zM224.6 117.6h4.3v2.5h-4.3zM97.2 120.1h4.3v2.5h-4.3zM110.1 120.1h8.6v2.5h-8.6zM125.3 120.1h2.2v2.5h-2.2zM133.9 120.1h8.6v2.5h-8.6zM174.9 120.1h13v2.5h-13zM205.2 120.1h4.3v2.5h-4.3zM101.5 122.6h2.2v2.5h-2.2zM108 122.6h17.3v2.5h-17.3zM131.7 122.6h8.6v2.5h-8.6zM174.9 122.6h17.3v2.5h-17.3zM207.3 122.6h2.2v2.5h-2.2zM103.7 125.1h13v2.5h-13zM118.8 125.1h6.5v2.5h-6.5zM179.2 125.1h6.5v2.5h-6.5zM187.9 125.1h4.3v2.5h-4.3zM226.8 125.1h2.2v2.5h-2.2zM103.7 127.6h13v2.5h-13zM118.8 127.6h6.5v2.5h-6.5zM179.2 127.6h6.5v2.5h-6.5zM187.9 127.6h4.3v2.5h-4.3zM108 130.1h2.2v2.5h-2.2zM116.6 130.1h4.3v2.5h-4.3zM123.1 130.1h2.2v2.5h-2.2zM159.8 130.1h8.6v2.5h-8.6zM179.2 130.1h13v2.5h-13zM108 132.6h2.2v2.5h-2.2zM159.8 132.6h4.3v2.5h-4.3zM166.3 132.6h2.2v2.5h-2.2zM179.2 132.6h10.8v2.5h-10.8zM110.1 135.1h4.3v2.5h-4.3zM181.4 135.1h4.3v2.5h-4.3zM151.2 137.6h4.3v2.5h-4.3zM183.6 137.6h2.2v2.5h-2.2zM153.3 140.2h2.2v2.5h-2.2zM155.5 142.7h2.2v2.5h-2.2zM187.9 142.7h8.6v2.5h-8.6zM203 142.7h4.3v2.5h-4.3zM157.7 145.2h4.3v2.5h-4.3zM174.9 145.2h2.2v2.5h-2.2zM179.2 145.2h2.2v2.5h-2.2zM185.7 145.2h15.1v2.5h-15.1zM203 145.2h4.3v2.5h-4.3zM168.4 147.7h6.5v2.5h-6.5zM181.4 147.7h2.2v2.5h-2.2zM185.7 147.7h6.5v2.5h-6.5zM203 147.7h4.3v2.5h-4.3zM168.4 150.2h6.5v2.5h-6.5zM181.4 150.2h2.2v2.5h-2.2zM168.4 152.7h6.5v2.5h-6.5zM203 152.7h4.3v2.5h-4.3zM172.8 155.2h2.2v2.5h-2.2zM203 155.2h4.3v2.5h-4.3zM153.3 160.2h2.2v2.5h-2.2zM187.9 160.2h2.2v2.5h-2.2zM153.3 162.7h2.2v2.5h-2.2zM205.2 162.7h2.2v2.5h-2.2zM153.3 165.2h2.2v2.5h-2.2zM205.2 165.2h2.2v2.5h-2.2zM198.7 170.2h2.2v2.5h-2.2zM207.3 170.2h2.2v2.5h-2.2zM90.7 175.2h4.3v2.5h-4.3zM209.5 175.2h4.3v2.5h-4.3zM233.2 177.7h2.2v2.5h-2.2zM233.2 180.2h2.2v2.5h-2.2zM233.2 182.7h2.2v2.5h-2.2z"/><path fill="#fa3c3c" d="M194.4 2.5h4.3v2.5h-4.3zM205.2 2.5h2.2v2.5h-2.2zM194.4 5h15.1v2.5h-15.1zM164.1 7.5h13v2.5h-13zM194.4 7.5h15.1v2.5h-15.1zM155.5 10h23.8v2.5h-23.8zM196.5 10h10.8v2.5h-10.8zM151.2 12.5h28.1v2.5h-28.1zM146.9 15h32.4v2.5h-32.4zM146.9 17.5h21.6v2.5h-21.6zM274.3 17.5h6.5v2.5h-6.5zM149 20h15.1v2.5h-15.1zM254.8 20h10.8v2.5h-10.8zM274.3 20h6.5v2.5h-6.5zM149 22.5h13v2.5h-13zM254.8 22.5h10.8v2.5h-10.8zM274.3 22.5h6.5v2.5h-6.5zM149 25h10.8v2.5h-10.8zM254.8 25h8.6v2.5h-8.6zM270 25h10.8v2.5h-10.8zM151.2 27.5h8.6v2.5h-8.6zM274.3 27.5h6.5v2.5h-6.5zM274.3 30h6.5v2.5h-6.5zM270 147.7h4.3v2.5h-4.3zM263.5 152.7h2.2v2.5h-2.2z"/><path fill="#0a32fa" d="M95 102.6h2.2v2.5h-2.2zM95 105.1h13v2.5h-13zM116.6 105.1h8.6v2.5h-8.6zM133.9 105.1h2.2v2.5h-2.2zM95 107.6h17.3v2.5h-17.3zM116.6 107.6h8.6v2.5h-8.6zM131.7 107.6h17.3v2.5h-17.3zM97.2 110.1h15.1v2.5h-15.1zM116.6 110.1h6.5v2.5h-6.5zM127.4 110.1h23.8v2.5h-23.8zM99.3 112.6h15.1v2.5h-15.1zM120.9 112.6h4.3v2.5h-4.3zM127.4 112.6h23.8v2.5h-23.8zM213.8 112.6h6.5v2.5h-6.5zM231.1 112.6h4.3v2.5h-4.3zM99.3 115.1h15.1v2.5h-15.1zM120.9 115.1h4.3v2.5h-4.3zM127.4 115.1h23.8v2.5h-23.8zM157.7 115.1h23.8v2.5h-23.8zM211.6 115.1h21.6v2.5h-21.6zM99.3 117.6h15.1v2.5h-15.1zM127.4 117.6h6.5v2.5h-6.5zM140.4 117.6h6.5v2.5h-6.5zM157.7 117.6h17.3v2.5h-17.3zM179.2 117.6h4.3v2.5h-4.3zM211.6 117.6h13v2.5h-13zM101.5 120.1h8.6v2.5h-8.6zM127.4 120.1h6.5v2.5h-6.5zM157.7 120.1h17.3v2.5h-17.3zM192.2 120.1h10.8v2.5h-10.8zM209.5 120.1h19.4v2.5h-19.4zM103.7 122.6h4.3v2.5h-4.3zM157.7 122.6h17.3v2.5h-17.3zM192.2 122.6h15.1v2.5h-15.1zM209.5 122.6h17.3v2.5h-17.3zM116.6 125.1h2.2v2.5h-2.2zM157.7 125.1h21.6v2.5h-21.6zM192.2 125.1h15.1v2.5h-15.1zM209.5 125.1h15.1v2.5h-15.1zM116.6 127.6h2.2v2.5h-2.2zM146.9 127.6h32.4v2.5h-32.4zM192.2 127.6h30.2v2.5h-30.2zM110.1 130.1h4.3v2.5h-4.3zM120.9 130.1h2.2v2.5h-2.2zM146.9 130.1h8.6v2.5h-8.6zM157.7 130.1h2.2v2.5h-2.2zM168.4 130.1h10.8v2.5h-10.8zM192.2 130.1h25.9v2.5h-25.9zM110.1 132.6h4.3v2.5h-4.3zM146.9 132.6h13v2.5h-13zM168.4 132.6h10.8v2.5h-10.8zM190 132.6h25.9v2.5h-25.9zM149 135.1h32.4v2.5h-32.4zM185.7 135.1h30.2v2.5h-30.2zM155.5 137.6h28.1v2.5h-28.1zM185.7 137.6h25.9v2.5h-25.9zM155.5 140.2h28.1v2.5h-28.1zM187.9 140.2h8.6v2.5h-8.6zM203 140.2h8.6v2.5h-8.6zM157.7 142.7h30.2v2.5h-30.2zM196.5 142.7h4.3v2.5h-4.3zM207.3 142.7h4.3v2.5h-4.3zM162 145.2h13v2.5h-13zM177.1 145.2h2.2v2.5h-2.2zM183.6 145.2h2.2v2.5h-2.2zM200.8 145.2h2.2v2.5h-2.2zM164.1 147.7h4.3v2.5h-4.3zM183.6 147.7h2.2v2.5h-2.2zM192.2 147.7h10.8v2.5h-10.8zM183.6 150.2h19.4v2.5h-19.4zM183.6 152.7h19.4v2.5h-19.4zM170.6 155.2h2.2v2.5h-2.2zM183.6 155.2h19.4v2.5h-19.4zM187.9 157.7h2.2v2.5h-2.2zM196.5 162.7h6.5v2.5h-6.5zM196.5 165.2h8.6v2.5h-8.6zM196.5 167.7h10.8v2.5h-10.8zM203 170.2h4.3v2.5h-4.3zM203 172.7h4.3v2.5h-4.3z"/></g>
<use href="#coast"/>
</g>
<rect x="0" y="0" width="280.8" height="185.2" fill="none" stroke="#2a2a2a" stroke-width="1.1"/>
<g><line x1="-3" y1="10" x2="0" y2="10" stroke="#555" stroke-width="0.9"/><text class="ax" x="-5.3" y="13.2" text-anchor="end" textLength="14.8" lengthAdjust="spacingAndGlyphs">70N</text><line x1="-3" y1="60.1" x2="0" y2="60.1" stroke="#555" stroke-width="0.9"/><text class="ax" x="-5.3" y="63.3" text-anchor="end" textLength="14.8" lengthAdjust="spacingAndGlyphs">60N</text><line x1="-3" y1="110.1" x2="0" y2="110.1" stroke="#555" stroke-width="0.9"/><text class="ax" x="-5.3" y="113.3" text-anchor="end" textLength="14.8" lengthAdjust="spacingAndGlyphs">50N</text><line x1="-3" y1="160.2" x2="0" y2="160.2" stroke="#555" stroke-width="0.9"/><text class="ax" x="-5.3" y="163.4" text-anchor="end" textLength="14.8" lengthAdjust="spacingAndGlyphs">40N</text><line x1="0" y1="185.2" x2="0" y2="188" stroke="#555" stroke-width="0.9"/><text class="ax" x="0" y="196.3" text-anchor="middle" textLength="14.6" lengthAdjust="spacingAndGlyphs">20W</text><line x1="43.2" y1="185.2" x2="43.2" y2="188" stroke="#555" stroke-width="0.9"/><text class="ax" x="43.2" y="196.3" text-anchor="middle" textLength="14.6" lengthAdjust="spacingAndGlyphs">10W</text><line x1="86.4" y1="185.2" x2="86.4" y2="188" stroke="#555" stroke-width="0.9"/><text class="ax" x="86.4" y="196.3" text-anchor="middle">0</text><line x1="129.6" y1="185.2" x2="129.6" y2="188" stroke="#555" stroke-width="0.9"/><text class="ax" x="129.6" y="196.3" text-anchor="middle" textLength="14.6" lengthAdjust="spacingAndGlyphs">10E</text><line x1="172.8" y1="185.2" x2="172.8" y2="188" stroke="#555" stroke-width="0.9"/><text class="ax" x="172.8" y="196.3" text-anchor="middle" textLength="14.6" lengthAdjust="spacingAndGlyphs">20E</text><line x1="216" y1="185.2" x2="216" y2="188" stroke="#555" stroke-width="0.9"/><text class="ax" x="216" y="196.3" text-anchor="middle" textLength="14.6" lengthAdjust="spacingAndGlyphs">30E</text><line x1="259.2" y1="185.2" x2="259.2" y2="188" stroke="#555" stroke-width="0.9"/><text class="ax" x="259.2" y="196.3" text-anchor="middle" textLength="14.6" lengthAdjust="spacingAndGlyphs">40E</text><rect x="77.6" y="201.1" width="25.2" height="6.2" fill="#0a32fa"/><rect x="102.7" y="201.1" width="25.2" height="6.2" fill="#00cd19"/><rect x="127.8" y="201.1" width="25.2" height="6.2" fill="#e8dc0a"/><rect x="152.9" y="201.1" width="25.2" height="6.2" fill="#fa3c3c"/><rect x="178" y="201.1" width="25.2" height="6.2" fill="#c0c0c0"/><text class="cb" x="102.7" y="212.9">−2</text><text class="cb" x="127.8" y="212.9">−1</text><text class="cb" x="152.9" y="212.9">1</text><text class="cb" x="178" y="212.9">2</text></g>
</g>
<text class="lt" x="864.3" y="831.9">(<tspan font-weight="bold">i</tspan>)</text>
</svg></body></html>
